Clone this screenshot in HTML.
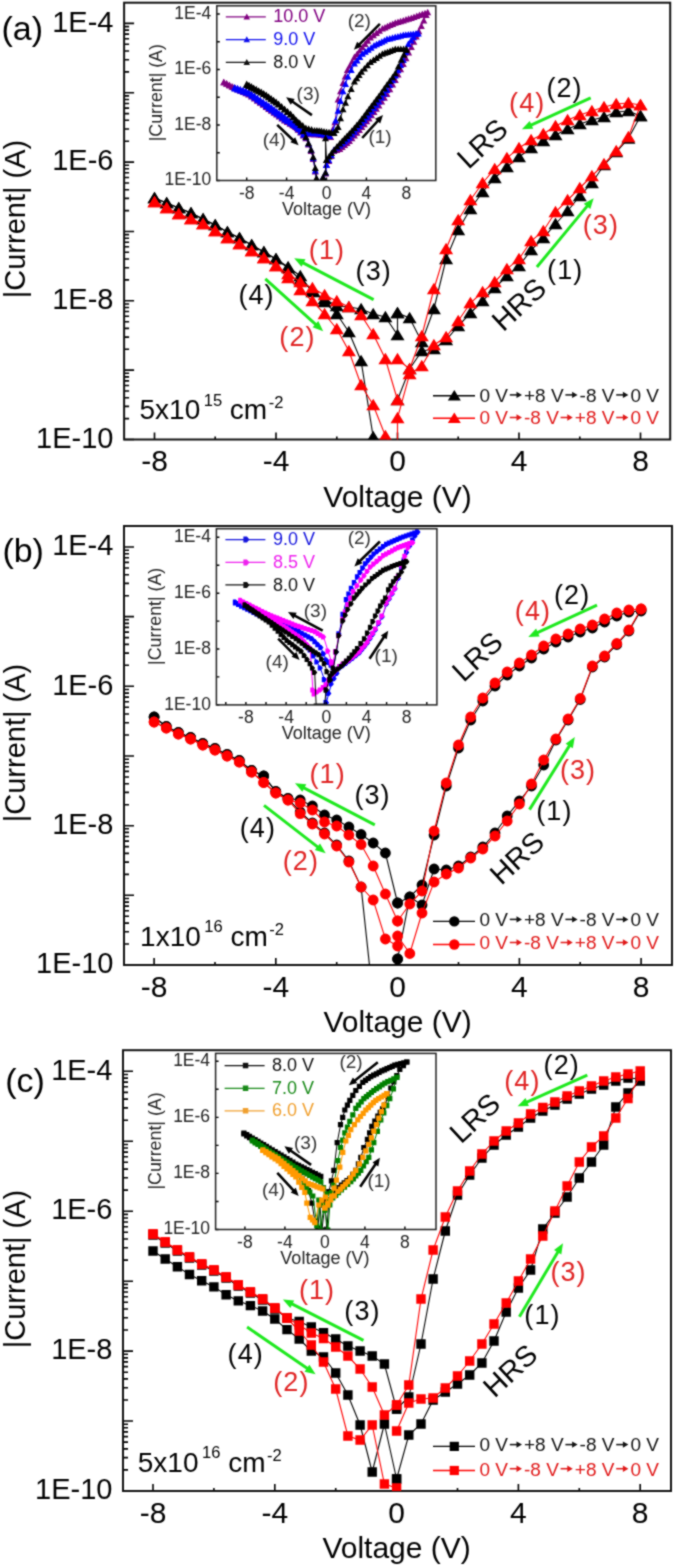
<!DOCTYPE html>
<html><head><meta charset="utf-8"><style>
html,body{margin:0;padding:0;background:#fff;}
body{width:675px;height:1565px;overflow:hidden;}
svg{display:block;}
text{font-family:"Liberation Sans", sans-serif;}
</style></head><body>
<svg width="675" height="1565" viewBox="0 0 675 1565" font-family='"Liberation Sans", sans-serif'>
<defs><filter id="soft" x="0" y="0" width="100%" height="100%" color-interpolation-filters="sRGB"><feConvolveMatrix order="3" kernelMatrix="1 2 1 2 8 2 1 2 1" divisor="20" edgeMode="duplicate"/></filter></defs>
<g filter="url(#soft)">
<rect width="675" height="1565" fill="#fff"/>
<defs>
<clipPath id="cma"><rect x="124.1" y="2.7" width="546.1" height="436.8"/></clipPath>
<clipPath id="cia"><rect x="216.8" y="5.8" width="219" height="174.7"/></clipPath>
<clipPath id="cmb"><rect x="124" y="526" width="548" height="439"/></clipPath>
<clipPath id="cib"><rect x="216.4" y="528.7" width="220.5" height="176.2"/></clipPath>
<clipPath id="cmc"><rect x="123" y="1050.2" width="548" height="440.8"/></clipPath>
<clipPath id="cic"><rect x="215.6" y="1053.4" width="220.4" height="176.1"/></clipPath>
</defs>
<path d="M154.5 439.5v-7M215.2 439.5v-3M276 439.5v-7M336.8 439.5v-3M397.5 439.5v-7M458.2 439.5v-3M519 439.5v-7M579.8 439.5v-3M640.5 439.5v-7M124.1 439.5h10M124.1 418.6h5M124.1 406.4h5M124.1 397.7h5M124.1 391h5M124.1 385.5h5M124.1 380.9h5M124.1 376.9h5M124.1 373.3h5M124.1 370.1h10M124.1 349.3h5M124.1 337.1h5M124.1 328.4h5M124.1 321.7h5M124.1 316.2h5M124.1 311.5h5M124.1 307.5h5M124.1 304h5M124.1 300.8h10M124.1 279.9h5M124.1 267.7h5M124.1 259h5M124.1 252.3h5M124.1 246.8h5M124.1 242.2h5M124.1 238.2h5M124.1 234.6h5M124.1 231.5h10M124.1 210.6h5M124.1 198.4h5M124.1 189.7h5M124.1 183h5M124.1 177.5h5M124.1 172.8h5M124.1 168.8h5M124.1 165.3h5M124.1 162.1h10M124.1 141.2h5M124.1 129h5M124.1 120.3h5M124.1 113.6h5M124.1 108.1h5M124.1 103.5h5M124.1 99.5h5M124.1 95.9h5M124.1 92.8h10M124.1 71.9h5M124.1 59.7h5M124.1 51h5M124.1 44.3h5M124.1 38.8h5M124.1 34.1h5M124.1 30.1h5M124.1 26.6h5M124.1 23.4h10" stroke="#000" stroke-width="1.6" fill="none"/>
<rect x="124.1" y="2.7" width="546.1" height="436.8" fill="none" stroke="#111" stroke-width="2"/>
<text x="113.5" y="31.6" font-size="29" fill="#000" text-anchor="end" >1E-4</text>
<text x="113.5" y="170.3" font-size="29" fill="#000" text-anchor="end" >1E-6</text>
<text x="113.5" y="309" font-size="29" fill="#000" text-anchor="end" >1E-8</text>
<text x="113.5" y="447.7" font-size="29" fill="#000" text-anchor="end" >1E-10</text>
<text x="154.5" y="471" font-size="30" fill="#000" text-anchor="middle" >-8</text>
<text x="276" y="471" font-size="30" fill="#000" text-anchor="middle" >-4</text>
<text x="397.5" y="471" font-size="30" fill="#000" text-anchor="middle" >0</text>
<text x="519" y="471" font-size="30" fill="#000" text-anchor="middle" >4</text>
<text x="640.5" y="471" font-size="30" fill="#000" text-anchor="middle" >8</text>
<text x="397.5" y="506.8" font-size="30" fill="#000" text-anchor="middle" >Voltage (V)</text>
<text x="0" y="0" font-size="29" text-anchor="middle" transform="translate(25.2 219) rotate(-90)">|Current| (A)</text>
<path d="M397.5 400L409.6 369L421.8 351L433.9 349L446.1 340L458.2 326L470.4 313L482.6 301L494.7 288L506.9 276L519 266L531.1 250L543.3 238L555.5 224L567.6 211L579.8 196L591.9 183L604 165L616.2 152L628.4 138.5L640.5 116" stroke="#000" stroke-width="1.1" fill="none" clip-path="url(#cma)"/>
<path d="M397.5 393.7l7 11.5h-14zM409.6 362.7l7 11.5h-14zM421.8 344.7l7 11.5h-14zM433.9 342.7l7 11.5h-14zM446.1 333.7l7 11.5h-14zM458.2 319.7l7 11.5h-14zM470.4 306.7l7 11.5h-14zM482.6 294.7l7 11.5h-14zM494.7 281.7l7 11.5h-14zM506.9 269.7l7 11.5h-14zM519 259.7l7 11.5h-14zM531.1 243.7l7 11.5h-14zM543.3 231.7l7 11.5h-14zM555.5 217.7l7 11.5h-14zM567.6 204.7l7 11.5h-14zM579.8 189.7l7 11.5h-14zM591.9 176.7l7 11.5h-14zM604 158.7l7 11.5h-14zM616.2 145.7l7 11.5h-14zM628.4 132.2l7 11.5h-14zM640.5 109.7l7 11.5h-14z" fill="#000" clip-path="url(#cma)"/>
<path d="M640.5 116L628.4 111L616.2 112L604 117L591.9 120L579.8 124L567.6 129L555.5 135L543.3 141L531.1 148L519 157L506.9 167L494.7 178L482.6 192L470.4 209L458.2 230L446.1 259L433.9 309L421.8 342L409.6 318L397.5 313" stroke="#000" stroke-width="1.1" fill="none" clip-path="url(#cma)"/>
<path d="M640.5 109.7l7 11.5h-14zM628.4 104.7l7 11.5h-14zM616.2 105.7l7 11.5h-14zM604 110.7l7 11.5h-14zM591.9 113.7l7 11.5h-14zM579.8 117.7l7 11.5h-14zM567.6 122.7l7 11.5h-14zM555.5 128.7l7 11.5h-14zM543.3 134.7l7 11.5h-14zM531.1 141.7l7 11.5h-14zM519 150.7l7 11.5h-14zM506.9 160.7l7 11.5h-14zM494.7 171.7l7 11.5h-14zM482.6 185.7l7 11.5h-14zM470.4 202.7l7 11.5h-14zM458.2 223.7l7 11.5h-14zM446.1 252.7l7 11.5h-14zM433.9 302.7l7 11.5h-14zM421.8 335.7l7 11.5h-14zM409.6 311.7l7 11.5h-14zM397.5 306.7l7 11.5h-14z" fill="#000" clip-path="url(#cma)"/>
<path d="M397.5 313L397.5 335L385.4 317L373.2 314L361.1 309L348.9 307L336.8 306L324.6 299L312.4 292L300.3 276L288.1 267L276 259L263.9 252L251.7 245L239.5 238L227.4 232L215.2 225L203.1 219L191 213L178.8 208L166.7 203L154.5 198" stroke="#000" stroke-width="1.1" fill="none" clip-path="url(#cma)"/>
<path d="M397.5 306.7l7 11.5h-14zM397.5 328.7l7 11.5h-14zM385.4 310.7l7 11.5h-14zM373.2 307.7l7 11.5h-14zM361.1 302.7l7 11.5h-14zM348.9 300.7l7 11.5h-14zM336.8 299.7l7 11.5h-14zM324.6 292.7l7 11.5h-14zM312.4 285.7l7 11.5h-14zM300.3 269.7l7 11.5h-14zM288.1 260.7l7 11.5h-14zM276 252.7l7 11.5h-14zM263.9 245.7l7 11.5h-14zM251.7 238.7l7 11.5h-14zM239.5 231.7l7 11.5h-14zM227.4 225.7l7 11.5h-14zM215.2 218.7l7 11.5h-14zM203.1 212.7l7 11.5h-14zM191 206.7l7 11.5h-14zM178.8 201.7l7 11.5h-14zM166.7 196.7l7 11.5h-14zM154.5 191.7l7 11.5h-14z" fill="#000" clip-path="url(#cma)"/>
<path d="M154.5 198L166.7 203L178.8 208L191 213L203.1 219L215.2 225L227.4 232L239.5 238L251.7 245L263.9 252L276 259L288.1 268L300.3 280L312.4 290L324.6 302L336.8 314L348.9 332L361.1 361L373.2 437L385.4 470L397.5 470" stroke="#000" stroke-width="1.1" fill="none" clip-path="url(#cma)"/>
<path d="M154.5 191.7l7 11.5h-14zM166.7 196.7l7 11.5h-14zM178.8 201.7l7 11.5h-14zM191 206.7l7 11.5h-14zM203.1 212.7l7 11.5h-14zM215.2 218.7l7 11.5h-14zM227.4 225.7l7 11.5h-14zM239.5 231.7l7 11.5h-14zM251.7 238.7l7 11.5h-14zM263.9 245.7l7 11.5h-14zM276 252.7l7 11.5h-14zM288.1 261.7l7 11.5h-14zM300.3 273.7l7 11.5h-14zM312.4 283.7l7 11.5h-14zM324.6 295.7l7 11.5h-14zM336.8 307.7l7 11.5h-14zM348.9 325.7l7 11.5h-14zM361.1 354.7l7 11.5h-14zM373.2 430.7l7 11.5h-14zM385.4 463.7l7 11.5h-14zM397.5 463.7l7 11.5h-14z" fill="#000" clip-path="url(#cma)"/>
<path d="M397.5 400L385.4 359L373.2 334L361.1 315L348.9 307L336.8 301L324.6 295L312.4 288L300.3 282L288.1 274L276 266L263.9 258L251.7 251L239.5 244L227.4 238L215.2 231L203.1 224L191 219L178.8 214L166.7 208L154.5 202" stroke="#ff0000" stroke-width="1.1" fill="none" clip-path="url(#cma)"/>
<path d="M397.5 393.7l7 11.5h-14zM385.4 352.7l7 11.5h-14zM373.2 327.7l7 11.5h-14zM361.1 308.7l7 11.5h-14zM348.9 300.7l7 11.5h-14zM336.8 294.7l7 11.5h-14zM324.6 288.7l7 11.5h-14zM312.4 281.7l7 11.5h-14zM300.3 275.7l7 11.5h-14zM288.1 267.7l7 11.5h-14zM276 259.7l7 11.5h-14zM263.9 251.7l7 11.5h-14zM251.7 244.7l7 11.5h-14zM239.5 237.7l7 11.5h-14zM227.4 231.7l7 11.5h-14zM215.2 224.7l7 11.5h-14zM203.1 217.7l7 11.5h-14zM191 212.7l7 11.5h-14zM178.8 207.7l7 11.5h-14zM166.7 201.7l7 11.5h-14zM154.5 195.7l7 11.5h-14z" fill="#ff0000" clip-path="url(#cma)"/>
<path d="M154.5 202L166.7 208L178.8 214L191 219L203.1 224L215.2 231L227.4 238L239.5 244L251.7 251L263.9 258L276 266L288.1 278L300.3 290L312.4 301L324.6 314L336.8 329L348.9 351L361.1 385L373.2 405L385.4 436L397.5 452" stroke="#ff0000" stroke-width="1.1" fill="none" clip-path="url(#cma)"/>
<path d="M154.5 195.7l7 11.5h-14zM166.7 201.7l7 11.5h-14zM178.8 207.7l7 11.5h-14zM191 212.7l7 11.5h-14zM203.1 217.7l7 11.5h-14zM215.2 224.7l7 11.5h-14zM227.4 231.7l7 11.5h-14zM239.5 237.7l7 11.5h-14zM251.7 244.7l7 11.5h-14zM263.9 251.7l7 11.5h-14zM276 259.7l7 11.5h-14zM288.1 271.7l7 11.5h-14zM300.3 283.7l7 11.5h-14zM312.4 294.7l7 11.5h-14zM324.6 307.7l7 11.5h-14zM336.8 322.7l7 11.5h-14zM348.9 344.7l7 11.5h-14zM361.1 378.7l7 11.5h-14zM373.2 398.7l7 11.5h-14zM385.4 429.7l7 11.5h-14zM397.5 445.7l7 11.5h-14z" fill="#ff0000" clip-path="url(#cma)"/>
<path d="M397.5 452L397.5 418L409.6 374L421.8 366L433.9 345L446.1 337L458.2 321L470.4 303L482.6 292L494.7 282L506.9 269L519 259L531.1 241L543.3 231L555.5 212L567.6 200L579.8 188L591.9 176L604 164L616.2 151L628.4 137L640.5 105" stroke="#ff0000" stroke-width="1.1" fill="none" clip-path="url(#cma)"/>
<path d="M397.5 445.7l7 11.5h-14zM397.5 411.7l7 11.5h-14zM409.6 367.7l7 11.5h-14zM421.8 359.7l7 11.5h-14zM433.9 338.7l7 11.5h-14zM446.1 330.7l7 11.5h-14zM458.2 314.7l7 11.5h-14zM470.4 296.7l7 11.5h-14zM482.6 285.7l7 11.5h-14zM494.7 275.7l7 11.5h-14zM506.9 262.7l7 11.5h-14zM519 252.7l7 11.5h-14zM531.1 234.7l7 11.5h-14zM543.3 224.7l7 11.5h-14zM555.5 205.7l7 11.5h-14zM567.6 193.7l7 11.5h-14zM579.8 181.7l7 11.5h-14zM591.9 169.7l7 11.5h-14zM604 157.7l7 11.5h-14zM616.2 144.7l7 11.5h-14zM628.4 130.7l7 11.5h-14zM640.5 98.7l7 11.5h-14z" fill="#ff0000" clip-path="url(#cma)"/>
<path d="M640.5 105L628.4 103L616.2 104L604 107L591.9 111L579.8 115L567.6 120L555.5 126L543.3 134L531.1 140L519 148L506.9 158L494.7 169L482.6 183L470.4 200L458.2 220L446.1 249L433.9 289L421.8 336L409.6 369L397.5 359" stroke="#ff0000" stroke-width="1.1" fill="none" clip-path="url(#cma)"/>
<path d="M640.5 98.7l7 11.5h-14zM628.4 96.7l7 11.5h-14zM616.2 97.7l7 11.5h-14zM604 100.7l7 11.5h-14zM591.9 104.7l7 11.5h-14zM579.8 108.7l7 11.5h-14zM567.6 113.7l7 11.5h-14zM555.5 119.7l7 11.5h-14zM543.3 127.7l7 11.5h-14zM531.1 133.7l7 11.5h-14zM519 141.7l7 11.5h-14zM506.9 151.7l7 11.5h-14zM494.7 162.7l7 11.5h-14zM482.6 176.7l7 11.5h-14zM470.4 193.7l7 11.5h-14zM458.2 213.7l7 11.5h-14zM446.1 242.7l7 11.5h-14zM433.9 282.7l7 11.5h-14zM421.8 329.7l7 11.5h-14zM409.6 362.7l7 11.5h-14zM397.5 352.7l7 11.5h-14z" fill="#ff0000" clip-path="url(#cma)"/>
<path d="M433 395.7h42" stroke="#000" stroke-width="1.4"/>
<path d="M454.3 389.9l6.5 10.6h-13z" fill="#000"/>
<text x="479.4" y="401.7" font-size="19" fill="#111" text-anchor="start" >0 V</text>
<path d="M509.8 394.9H518" stroke="#111" stroke-width="1.5"/>
<path d="M522 394.9L516.5 391.7L516.5 398.1z" fill="#111"/>
<text x="524" y="401.7" font-size="19" fill="#111" text-anchor="start" >+8 V</text>
<path d="M565.4 394.9H573.6" stroke="#111" stroke-width="1.5"/>
<path d="M577.6 394.9L572.1 391.7L572.1 398.1z" fill="#111"/>
<text x="579.6" y="401.7" font-size="19" fill="#111" text-anchor="start" >-8 V</text>
<path d="M616.2 394.9H624.4" stroke="#111" stroke-width="1.5"/>
<path d="M628.4 394.9L622.9 391.7L622.9 398.1z" fill="#111"/>
<text x="630.4" y="401.7" font-size="19" fill="#111" text-anchor="start" >0 V</text>
<path d="M433 418.3h42" stroke="#ff0000" stroke-width="1.4"/>
<path d="M454.3 412.5l6.5 10.6h-13z" fill="#ff0000"/>
<text x="479.4" y="424.3" font-size="19" fill="#e01818" text-anchor="start" >0 V</text>
<path d="M509.8 417.5H518" stroke="#e01818" stroke-width="1.5"/>
<path d="M522 417.5L516.5 414.3L516.5 420.7z" fill="#e01818"/>
<text x="524" y="424.3" font-size="19" fill="#e01818" text-anchor="start" >-8 V</text>
<path d="M560.6 417.5H568.8" stroke="#e01818" stroke-width="1.5"/>
<path d="M572.8 417.5L567.3 414.3L567.3 420.7z" fill="#e01818"/>
<text x="574.8" y="424.3" font-size="19" fill="#e01818" text-anchor="start" >+8 V</text>
<path d="M616.2 417.5H624.4" stroke="#e01818" stroke-width="1.5"/>
<path d="M628.4 417.5L622.9 414.3L622.9 420.7z" fill="#e01818"/>
<text x="630.4" y="424.3" font-size="19" fill="#e01818" text-anchor="start" >0 V</text>
<path d="M373.6 299.7L302.6 262.6" stroke="#1ee81e" stroke-width="3" fill="none"/>
<path d="M294.2 258.2L305.5 259.3L301.5 266.8z" fill="#1ee81e"/>
<path d="M265.3 278.8L316.2 324.8" stroke="#1ee81e" stroke-width="3" fill="none"/>
<path d="M323.2 331.2L312.6 327.3L318.3 321z" fill="#1ee81e"/>
<path d="M590.7 97.9L530.5 125.4" stroke="#1ee81e" stroke-width="3" fill="none"/>
<path d="M521.9 129.3L529.7 121.1L533.2 128.8z" fill="#1ee81e"/>
<path d="M536.9 267L587.6 205.6" stroke="#1ee81e" stroke-width="3" fill="none"/>
<path d="M593.7 198.3L590.3 209.1L583.7 203.7z" fill="#1ee81e"/>
<text x="308.8" y="259.1" font-size="27" fill="#e02424" text-anchor="start" letter-spacing="1.1">(1)</text>
<text x="355.6" y="280.2" font-size="27" fill="#000" text-anchor="start" letter-spacing="1.1">(3)</text>
<text x="238.4" y="304.1" font-size="27" fill="#000" text-anchor="start" letter-spacing="1.1">(4)</text>
<text x="279.3" y="345.8" font-size="27" fill="#e02424" text-anchor="start" letter-spacing="1.1">(2)</text>
<text x="546.4" y="97" font-size="27" fill="#000" text-anchor="start" letter-spacing="1.1">(2)</text>
<text x="509.1" y="111.6" font-size="27" fill="#e02424" text-anchor="start" letter-spacing="1.1">(4)</text>
<text x="547.1" y="279.1" font-size="27" fill="#000" text-anchor="start" letter-spacing="1.1">(1)</text>
<text x="582.7" y="234.1" font-size="27" fill="#e02424" text-anchor="start" letter-spacing="1.1">(3)</text>
<text x="1.5" y="40.4" font-size="34" fill="#000" text-anchor="start" >(a)</text>
<text x="139.5" y="419.1" font-size="28" fill="#000" text-anchor="start" >5x10<tspan font-size="16.5" dx="3.5" dy="-13.5">15</tspan><tspan dy="13.5"> cm</tspan><tspan font-size="16.5" dx="1.5" dy="-11">-2</tspan></text>
<text x="468.5" y="170" font-size="29" fill="#000" text-anchor="start" transform="rotate(-43 468.5 170)">LRS</text>
<text x="503.3" y="332.5" font-size="29" fill="#000" text-anchor="start" transform="rotate(-43 503.3 332.5)">HRS</text>
<rect x="216.8" y="5.8" width="219" height="174.7" fill="#fff" stroke="none"/>
<path d="M326.5 165L328.8 161L331.3 156L333.9 151L336.8 150L339.8 149L342.2 147L344.6 145L347 143L349.4 141L351.9 138.2L354.4 135.5L356.9 132.8L359.4 130L361.8 127.1L364.3 124.2L366.7 121.4L369.1 118.5L371.5 115.2L374 112L376.4 108.8L378.9 105.5L381.6 101.7L384.3 97.8L387 94L389.8 89.3L392.6 84.7L395.3 80L398 74.7L400.6 69.3L403.3 64L406 58.3L408.6 52.7L411.3 47L413.8 41.8L416.3 36.5L418.8 31.2L421.3 26L423.8 20.5L426.2 15" stroke="#800080" stroke-width="1" fill="none" clip-path="url(#cia)"/>
<path d="M326.5 161.4l3.5 6.5h-7zM328.8 157.4l3.5 6.5h-7zM331.3 152.4l3.5 6.5h-7zM333.9 147.4l3.5 6.5h-7zM336.8 146.4l3.5 6.5h-7zM339.8 145.4l3.5 6.5h-7zM342.2 143.4l3.5 6.5h-7zM344.6 141.4l3.5 6.5h-7zM347 139.4l3.5 6.5h-7zM349.4 137.4l3.5 6.5h-7zM351.9 134.7l3.5 6.5h-7zM354.4 131.9l3.5 6.5h-7zM356.9 129.2l3.5 6.5h-7zM359.4 126.4l3.5 6.5h-7zM361.8 123.5l3.5 6.5h-7zM364.3 120.7l3.5 6.5h-7zM366.7 117.8l3.5 6.5h-7zM369.1 114.9l3.5 6.5h-7zM371.5 111.7l3.5 6.5h-7zM374 108.4l3.5 6.5h-7zM376.4 105.2l3.5 6.5h-7zM378.9 101.9l3.5 6.5h-7zM381.6 98.1l3.5 6.5h-7zM384.3 94.3l3.5 6.5h-7zM387 90.4l3.5 6.5h-7zM389.8 85.8l3.5 6.5h-7zM392.6 81.1l3.5 6.5h-7zM395.3 76.4l3.5 6.5h-7zM398 71.1l3.5 6.5h-7zM400.6 65.8l3.5 6.5h-7zM403.3 60.4l3.5 6.5h-7zM406 54.8l3.5 6.5h-7zM408.6 49.1l3.5 6.5h-7zM411.3 43.4l3.5 6.5h-7zM413.8 38.2l3.5 6.5h-7zM416.3 32.9l3.5 6.5h-7zM418.8 27.7l3.5 6.5h-7zM421.3 22.4l3.5 6.5h-7zM423.8 16.9l3.5 6.5h-7zM426.2 11.4l3.5 6.5h-7z" fill="#800080" clip-path="url(#cia)"/>
<path d="M427.7 12.3L425 13.2L422.3 14.2L419.5 15.2L416.8 16.1L414 17.1L411.3 18L408.6 18.8L406 19.6L403.3 20.4L400.6 21.3L398 22.1L395.3 22.9L392.7 24L390.1 25.2L387.5 26.3L385 27.5L382.4 28.6L379.4 30.9L376.4 33.1L373.4 35.4L370.4 37.6L367.7 40.9L365.1 44.1L362.4 47.4L359.8 50.7L357.1 53.9L354.4 57.2L352.1 61.5L349.8 65.9L347.4 70.2L345.2 76.7L343 83.2L340.5 91.3L338.1 99.5L334.9 122.3L332.7 129.7L330.5 137" stroke="#800080" stroke-width="1" fill="none" clip-path="url(#cia)"/>
<path d="M427.7 8.7l3.5 6.5h-7zM425 9.7l3.5 6.5h-7zM422.3 10.6l3.5 6.5h-7zM419.5 11.6l3.5 6.5h-7zM416.8 12.5l3.5 6.5h-7zM414 13.5l3.5 6.5h-7zM411.3 14.4l3.5 6.5h-7zM408.6 15.2l3.5 6.5h-7zM406 16.1l3.5 6.5h-7zM403.3 16.9l3.5 6.5h-7zM400.6 17.7l3.5 6.5h-7zM398 18.5l3.5 6.5h-7zM395.3 19.3l3.5 6.5h-7zM392.7 20.5l3.5 6.5h-7zM390.1 21.6l3.5 6.5h-7zM387.5 22.7l3.5 6.5h-7zM385 23.9l3.5 6.5h-7zM382.4 25l3.5 6.5h-7zM379.4 27.3l3.5 6.5h-7zM376.4 29.5l3.5 6.5h-7zM373.4 31.8l3.5 6.5h-7zM370.4 34l3.5 6.5h-7zM367.7 37.3l3.5 6.5h-7zM365.1 40.6l3.5 6.5h-7zM362.4 43.8l3.5 6.5h-7zM359.8 47.1l3.5 6.5h-7zM357.1 50.4l3.5 6.5h-7zM354.4 53.6l3.5 6.5h-7zM352.1 58l3.5 6.5h-7zM349.8 62.3l3.5 6.5h-7zM347.4 66.6l3.5 6.5h-7zM345.2 73.1l3.5 6.5h-7zM343 79.6l3.5 6.5h-7zM340.5 87.8l3.5 6.5h-7zM338.1 95.9l3.5 6.5h-7zM334.9 118.7l3.5 6.5h-7zM332.7 126.1l3.5 6.5h-7zM330.5 133.4l3.5 6.5h-7z" fill="#800080" clip-path="url(#cia)"/>
<path d="M330.5 137L327.5 136.3L324.5 135.7L321.5 135L319.2 134.8L316.9 134.7L314.5 134.5L311.6 134.3L308.7 134.2L305.9 134L302.9 132L300 130L297.1 128L294.6 126L292.1 124L289.6 122L287.1 120L284.6 118L282 116.1L279.3 114.3L276.7 112.4L274.1 110.6L271.4 108.7L268.8 106.9L266.2 105L263.2 103L260.3 101L257.4 99L254.5 97L251.6 95L248.7 93L245.9 92L243.1 91L240.3 90L237.5 89L234.7 88L232 86.6L229.2 85.2L226.5 83.7L223.8 82.3" stroke="#800080" stroke-width="1" fill="none" clip-path="url(#cia)"/>
<path d="M330.5 133.4l3.5 6.5h-7zM327.5 132.8l3.5 6.5h-7zM324.5 132.1l3.5 6.5h-7zM321.5 131.4l3.5 6.5h-7zM319.2 131.3l3.5 6.5h-7zM316.9 131.1l3.5 6.5h-7zM314.5 130.9l3.5 6.5h-7zM311.6 130.8l3.5 6.5h-7zM308.7 130.6l3.5 6.5h-7zM305.9 130.4l3.5 6.5h-7zM302.9 128.4l3.5 6.5h-7zM300 126.4l3.5 6.5h-7zM297.1 124.4l3.5 6.5h-7zM294.6 122.4l3.5 6.5h-7zM292.1 120.4l3.5 6.5h-7zM289.6 118.4l3.5 6.5h-7zM287.1 116.4l3.5 6.5h-7zM284.6 114.4l3.5 6.5h-7zM282 112.6l3.5 6.5h-7zM279.3 110.7l3.5 6.5h-7zM276.7 108.9l3.5 6.5h-7zM274.1 107l3.5 6.5h-7zM271.4 105.1l3.5 6.5h-7zM268.8 103.3l3.5 6.5h-7zM266.2 101.4l3.5 6.5h-7zM263.2 99.4l3.5 6.5h-7zM260.3 97.4l3.5 6.5h-7zM257.4 95.4l3.5 6.5h-7zM254.5 93.4l3.5 6.5h-7zM251.6 91.4l3.5 6.5h-7zM248.7 89.4l3.5 6.5h-7zM245.9 88.4l3.5 6.5h-7zM243.1 87.4l3.5 6.5h-7zM240.3 86.4l3.5 6.5h-7zM237.5 85.4l3.5 6.5h-7zM234.7 84.4l3.5 6.5h-7zM232 83l3.5 6.5h-7zM229.2 81.6l3.5 6.5h-7zM226.5 80.1l3.5 6.5h-7zM223.8 78.7l3.5 6.5h-7z" fill="#800080" clip-path="url(#cia)"/>
<path d="M223.8 82.3L226.8 83.9L229.7 85.4L232.7 87L235.4 88.2L238.1 89.5L240.7 90.8L243.4 92L246 93.2L248.7 94.5L251.6 96.6L254.5 98.7L257.4 100.8L260.3 102.8L263.2 104.9L266.2 107L268.8 108.9L271.4 110.9L274.1 112.8L276.7 114.7L279.3 116.6L282 118.6L284.6 120.5L287.3 122.1L290.1 123.8L292.8 125.4L295.6 127L298.1 129.8L300.7 132.7L303.3 135.5L305.9 138.3L308.5 144.7L311.1 151L313.2 159L315.3 171.5L316.5 179.5L320.5 182L323.1 177.8L325.6 173.6L326.5 165" stroke="#800080" stroke-width="1" fill="none" clip-path="url(#cia)"/>
<path d="M223.8 78.7l3.5 6.5h-7zM226.8 80.3l3.5 6.5h-7zM229.7 81.9l3.5 6.5h-7zM232.7 83.4l3.5 6.5h-7zM235.4 84.7l3.5 6.5h-7zM238.1 85.9l3.5 6.5h-7zM240.7 87.2l3.5 6.5h-7zM243.4 88.4l3.5 6.5h-7zM246 89.7l3.5 6.5h-7zM248.7 90.9l3.5 6.5h-7zM251.6 93l3.5 6.5h-7zM254.5 95.1l3.5 6.5h-7zM257.4 97.2l3.5 6.5h-7zM260.3 99.3l3.5 6.5h-7zM263.2 101.3l3.5 6.5h-7zM266.2 103.4l3.5 6.5h-7zM268.8 105.4l3.5 6.5h-7zM271.4 107.3l3.5 6.5h-7zM274.1 109.2l3.5 6.5h-7zM276.7 111.1l3.5 6.5h-7zM279.3 113.1l3.5 6.5h-7zM282 115l3.5 6.5h-7zM284.6 116.9l3.5 6.5h-7zM287.3 118.5l3.5 6.5h-7zM290.1 120.2l3.5 6.5h-7zM292.8 121.8l3.5 6.5h-7zM295.6 123.4l3.5 6.5h-7zM298.1 126.2l3.5 6.5h-7zM300.7 129.1l3.5 6.5h-7zM303.3 131.9l3.5 6.5h-7zM305.9 134.7l3.5 6.5h-7zM308.5 141.1l3.5 6.5h-7zM311.1 147.4l3.5 6.5h-7zM313.2 155.4l3.5 6.5h-7zM315.3 167.9l3.5 6.5h-7zM316.5 175.9l3.5 6.5h-7zM320.5 178.4l3.5 6.5h-7zM323.1 174.2l3.5 6.5h-7zM325.6 170l3.5 6.5h-7zM326.5 161.4l3.5 6.5h-7z" fill="#800080" clip-path="url(#cia)"/>
<path d="M326.5 165L328.8 160.2L331.3 155.1L333.9 150L336.8 147.8L339.8 145.5L342.2 143.5L344.6 141.5L347 139.5L349.4 137.5L351.9 134.6L354.4 131.8L356.9 128.9L359.4 126L361.8 123.1L364.3 120.2L366.7 117.4L369.1 114.5L371.5 111.2L374 108L376.4 104.8L378.9 101.5L381.6 97.7L384.3 93.8L387 90L389.8 85.2L392.6 80.3L395.3 75.5L398 70.3L400.6 65.2L403.3 60L405.8 52L408.3 44L411 40.7L413.6 37.3L416.3 34" stroke="#0000ff" stroke-width="1" fill="none" clip-path="url(#cia)"/>
<path d="M326.5 161.4l3.5 6.5h-7zM328.8 156.6l3.5 6.5h-7zM331.3 151.5l3.5 6.5h-7zM333.9 146.4l3.5 6.5h-7zM336.8 144.2l3.5 6.5h-7zM339.8 141.9l3.5 6.5h-7zM342.2 139.9l3.5 6.5h-7zM344.6 137.9l3.5 6.5h-7zM347 135.9l3.5 6.5h-7zM349.4 133.9l3.5 6.5h-7zM351.9 131.1l3.5 6.5h-7zM354.4 128.2l3.5 6.5h-7zM356.9 125.3l3.5 6.5h-7zM359.4 122.4l3.5 6.5h-7zM361.8 119.5l3.5 6.5h-7zM364.3 116.7l3.5 6.5h-7zM366.7 113.8l3.5 6.5h-7zM369.1 110.9l3.5 6.5h-7zM371.5 107.7l3.5 6.5h-7zM374 104.4l3.5 6.5h-7zM376.4 101.2l3.5 6.5h-7zM378.9 97.9l3.5 6.5h-7zM381.6 94.1l3.5 6.5h-7zM384.3 90.3l3.5 6.5h-7zM387 86.4l3.5 6.5h-7zM389.8 81.6l3.5 6.5h-7zM392.6 76.8l3.5 6.5h-7zM395.3 71.9l3.5 6.5h-7zM398 66.8l3.5 6.5h-7zM400.6 61.6l3.5 6.5h-7zM403.3 56.4l3.5 6.5h-7zM405.8 48.4l3.5 6.5h-7zM408.3 40.4l3.5 6.5h-7zM411 37.1l3.5 6.5h-7zM413.6 33.8l3.5 6.5h-7zM416.3 30.4l3.5 6.5h-7z" fill="#0000ff" clip-path="url(#cia)"/>
<path d="M418.3 33.5L415.8 33.8L413.3 34L410.8 34.3L408.3 34.6L405.8 34.8L403.3 35.1L400.6 35.8L397.9 36.5L395.2 37.2L392.5 37.8L389.8 38.5L387 39.2L384.4 40.5L381.8 41.8L379.2 43.1L376.6 44.4L374 45.7L371.1 47.8L368.2 49.8L365.3 51.9L362.4 53.9L359.8 57.2L357.1 60.4L354.4 63.7L351.2 70.2L347.9 76.7L345.5 84.1L343 91.4L340.5 101.2L338.1 110.9L335.7 120.7L333.3 130.5L329.5 136" stroke="#0000ff" stroke-width="1" fill="none" clip-path="url(#cia)"/>
<path d="M418.3 29.9l3.5 6.5h-7zM415.8 30.2l3.5 6.5h-7zM413.3 30.5l3.5 6.5h-7zM410.8 30.7l3.5 6.5h-7zM408.3 31l3.5 6.5h-7zM405.8 31.3l3.5 6.5h-7zM403.3 31.5l3.5 6.5h-7zM400.6 32.2l3.5 6.5h-7zM397.9 32.9l3.5 6.5h-7zM395.2 33.6l3.5 6.5h-7zM392.5 34.3l3.5 6.5h-7zM389.8 34.9l3.5 6.5h-7zM387 35.6l3.5 6.5h-7zM384.4 36.9l3.5 6.5h-7zM381.8 38.2l3.5 6.5h-7zM379.2 39.5l3.5 6.5h-7zM376.6 40.8l3.5 6.5h-7zM374 42.1l3.5 6.5h-7zM371.1 44.2l3.5 6.5h-7zM368.2 46.2l3.5 6.5h-7zM365.3 48.3l3.5 6.5h-7zM362.4 50.3l3.5 6.5h-7zM359.8 53.6l3.5 6.5h-7zM357.1 56.9l3.5 6.5h-7zM354.4 60.1l3.5 6.5h-7zM351.2 66.6l3.5 6.5h-7zM347.9 73.1l3.5 6.5h-7zM345.5 80.5l3.5 6.5h-7zM343 87.8l3.5 6.5h-7zM340.5 97.6l3.5 6.5h-7zM338.1 107.3l3.5 6.5h-7zM335.7 117.1l3.5 6.5h-7zM333.3 126.9l3.5 6.5h-7zM329.5 132.4l3.5 6.5h-7z" fill="#0000ff" clip-path="url(#cia)"/>
<path d="M329.5 136L326.8 135.3L324.2 134.7L321.5 134L319.2 133.8L316.9 133.7L314.5 133.5L311.6 133.3L308.7 133.2L305.9 133L302.9 131L300 129L297.1 127L294.6 125L292.1 123L289.6 121L287.1 119L284.6 117L282 115.1L279.3 113.3L276.7 111.4L274.1 109.6L271.4 107.7L268.8 105.9L266.2 104L263.2 102L260.3 100L257.4 98L254.5 96L251.6 94L248.7 92L245.9 91.1L243.1 90.2L240.3 89.3L237.5 88.4L234.7 87.5" stroke="#0000ff" stroke-width="1" fill="none" clip-path="url(#cia)"/>
<path d="M329.5 132.4l3.5 6.5h-7zM326.8 131.8l3.5 6.5h-7zM324.2 131.1l3.5 6.5h-7zM321.5 130.4l3.5 6.5h-7zM319.2 130.3l3.5 6.5h-7zM316.9 130.1l3.5 6.5h-7zM314.5 129.9l3.5 6.5h-7zM311.6 129.8l3.5 6.5h-7zM308.7 129.6l3.5 6.5h-7zM305.9 129.4l3.5 6.5h-7zM302.9 127.4l3.5 6.5h-7zM300 125.4l3.5 6.5h-7zM297.1 123.4l3.5 6.5h-7zM294.6 121.4l3.5 6.5h-7zM292.1 119.4l3.5 6.5h-7zM289.6 117.4l3.5 6.5h-7zM287.1 115.4l3.5 6.5h-7zM284.6 113.4l3.5 6.5h-7zM282 111.6l3.5 6.5h-7zM279.3 109.7l3.5 6.5h-7zM276.7 107.9l3.5 6.5h-7zM274.1 106l3.5 6.5h-7zM271.4 104.1l3.5 6.5h-7zM268.8 102.3l3.5 6.5h-7zM266.2 100.4l3.5 6.5h-7zM263.2 98.4l3.5 6.5h-7zM260.3 96.4l3.5 6.5h-7zM257.4 94.4l3.5 6.5h-7zM254.5 92.4l3.5 6.5h-7zM251.6 90.4l3.5 6.5h-7zM248.7 88.4l3.5 6.5h-7zM245.9 87.5l3.5 6.5h-7zM243.1 86.6l3.5 6.5h-7zM240.3 85.7l3.5 6.5h-7zM237.5 84.8l3.5 6.5h-7zM234.7 83.9l3.5 6.5h-7z" fill="#0000ff" clip-path="url(#cia)"/>
<path d="M234.7 88.5L237.5 89.5L240.3 90.5L243.1 91.5L245.9 92.5L248.7 93.5L251.6 95.6L254.5 97.7L257.4 99.8L260.3 101.8L263.2 103.9L266.2 106L268.8 107.9L271.4 109.9L274.1 111.8L276.7 113.7L279.3 115.6L282 117.6L284.6 119.5L287.3 121.1L290.1 122.8L292.8 124.4L295.6 126L298.1 128.8L300.7 131.7L303.3 134.5L305.9 137.3L308.5 143.6L311.1 149.8L313.2 158.1L315.3 170.5L316.5 178.8L320.5 182L323.1 177.3L325.6 172.6L326.5 165" stroke="#0000ff" stroke-width="1" fill="none" clip-path="url(#cia)"/>
<path d="M234.7 84.9l3.5 6.5h-7zM237.5 85.9l3.5 6.5h-7zM240.3 86.9l3.5 6.5h-7zM243.1 87.9l3.5 6.5h-7zM245.9 88.9l3.5 6.5h-7zM248.7 89.9l3.5 6.5h-7zM251.6 92l3.5 6.5h-7zM254.5 94.1l3.5 6.5h-7zM257.4 96.2l3.5 6.5h-7zM260.3 98.3l3.5 6.5h-7zM263.2 100.3l3.5 6.5h-7zM266.2 102.4l3.5 6.5h-7zM268.8 104.4l3.5 6.5h-7zM271.4 106.3l3.5 6.5h-7zM274.1 108.2l3.5 6.5h-7zM276.7 110.1l3.5 6.5h-7zM279.3 112.1l3.5 6.5h-7zM282 114l3.5 6.5h-7zM284.6 115.9l3.5 6.5h-7zM287.3 117.5l3.5 6.5h-7zM290.1 119.2l3.5 6.5h-7zM292.8 120.8l3.5 6.5h-7zM295.6 122.4l3.5 6.5h-7zM298.1 125.2l3.5 6.5h-7zM300.7 128.1l3.5 6.5h-7zM303.3 130.9l3.5 6.5h-7zM305.9 133.7l3.5 6.5h-7zM308.5 140l3.5 6.5h-7zM311.1 146.2l3.5 6.5h-7zM313.2 154.5l3.5 6.5h-7zM315.3 166.9l3.5 6.5h-7zM316.5 175.2l3.5 6.5h-7zM320.5 178.4l3.5 6.5h-7zM323.1 173.7l3.5 6.5h-7zM325.6 169l3.5 6.5h-7zM326.5 161.4l3.5 6.5h-7z" fill="#0000ff" clip-path="url(#cia)"/>
<path d="M326.5 160L329 156.5L331.5 153L334.2 149.8L337 146.7L339.8 143.5L342.2 141.1L344.6 138.6L347 136.1L349.4 133.7L351.9 130.8L354.4 128L356.9 125.1L359.4 122.3L361.8 119L364.3 115.8L366.7 112.5L369.1 109.3L371.5 106L374 102.8L376.4 99.5L378.9 96.3L381.6 92.5L384.3 88.7L387 84.9L389.8 81.1L392.6 77.2L395.3 73.4L398.3 66.6L401.3 59.8L403.8 54.9L406.3 50" stroke="#000" stroke-width="1" fill="none" clip-path="url(#cia)"/>
<path d="M326.5 156.4l3.5 6.5h-7zM329 152.9l3.5 6.5h-7zM331.5 149.4l3.5 6.5h-7zM334.2 146.3l3.5 6.5h-7zM337 143.1l3.5 6.5h-7zM339.8 139.9l3.5 6.5h-7zM342.2 137.5l3.5 6.5h-7zM344.6 135l3.5 6.5h-7zM347 132.6l3.5 6.5h-7zM349.4 130.1l3.5 6.5h-7zM351.9 127.3l3.5 6.5h-7zM354.4 124.4l3.5 6.5h-7zM356.9 121.6l3.5 6.5h-7zM359.4 118.7l3.5 6.5h-7zM361.8 115.5l3.5 6.5h-7zM364.3 112.2l3.5 6.5h-7zM366.7 109l3.5 6.5h-7zM369.1 105.7l3.5 6.5h-7zM371.5 102.5l3.5 6.5h-7zM374 99.2l3.5 6.5h-7zM376.4 96l3.5 6.5h-7zM378.9 92.7l3.5 6.5h-7zM381.6 88.9l3.5 6.5h-7zM384.3 85.1l3.5 6.5h-7zM387 81.3l3.5 6.5h-7zM389.8 77.5l3.5 6.5h-7zM392.6 73.7l3.5 6.5h-7zM395.3 69.8l3.5 6.5h-7zM398.3 63l3.5 6.5h-7zM401.3 56.2l3.5 6.5h-7zM403.8 51.3l3.5 6.5h-7zM406.3 46.4l3.5 6.5h-7z" fill="#000" clip-path="url(#cia)"/>
<path d="M406.3 49L403.6 49L400.8 49L398.1 49L395.3 49L392.7 50L390.1 51L387.5 51.9L385 52.9L382.4 53.9L379.4 55.9L376.4 58L373.4 60L370.4 62L367.4 65.3L364.4 68.5L361.4 71.8L359.1 75.1L356.8 78.3L354.4 81.6L351.2 88.9L347.9 96.3L345.5 102.8L343 109.3L340.5 118.2L338.1 127.2L336 130.2L333.9 133.2" stroke="#000" stroke-width="1" fill="none" clip-path="url(#cia)"/>
<path d="M406.3 45.4l3.5 6.5h-7zM403.6 45.4l3.5 6.5h-7zM400.8 45.4l3.5 6.5h-7zM398.1 45.4l3.5 6.5h-7zM395.3 45.4l3.5 6.5h-7zM392.7 46.4l3.5 6.5h-7zM390.1 47.4l3.5 6.5h-7zM387.5 48.4l3.5 6.5h-7zM385 49.3l3.5 6.5h-7zM382.4 50.3l3.5 6.5h-7zM379.4 52.3l3.5 6.5h-7zM376.4 54.4l3.5 6.5h-7zM373.4 56.4l3.5 6.5h-7zM370.4 58.4l3.5 6.5h-7zM367.4 61.7l3.5 6.5h-7zM364.4 65l3.5 6.5h-7zM361.4 68.2l3.5 6.5h-7zM359.1 71.5l3.5 6.5h-7zM356.8 74.8l3.5 6.5h-7zM354.4 78l3.5 6.5h-7zM351.2 85.4l3.5 6.5h-7zM347.9 92.7l3.5 6.5h-7zM345.5 99.2l3.5 6.5h-7zM343 105.7l3.5 6.5h-7zM340.5 114.7l3.5 6.5h-7zM338.1 123.6l3.5 6.5h-7zM336 126.6l3.5 6.5h-7zM333.9 129.6l3.5 6.5h-7z" fill="#000" clip-path="url(#cia)"/>
<path d="M333.9 133.2L331.4 132.8L329 132.4L326.5 132L324 131.6L321.5 131.1L319.2 130.9L316.9 130.7L314.5 130.5L311.6 129.7L308.7 128.8L305.9 128L302.8 125.5L299.7 123L296.6 120.5L293.6 117.2L290.6 114L287.6 111.5L284.6 109L281.6 106.5L278.6 104L276.1 102.2L273.6 100.4L271.1 98.6L268.6 96.8L266.2 95L263.7 93.6L261.2 92.2L258.7 90.8L256.2 89.4L253.7 88L251.4 86.7L249 85.3L246.7 84" stroke="#000" stroke-width="1" fill="none" clip-path="url(#cia)"/>
<path d="M333.9 129.6l3.5 6.5h-7zM331.4 129.2l3.5 6.5h-7zM329 128.8l3.5 6.5h-7zM326.5 128.4l3.5 6.5h-7zM324 128l3.5 6.5h-7zM321.5 127.5l3.5 6.5h-7zM319.2 127.3l3.5 6.5h-7zM316.9 127.1l3.5 6.5h-7zM314.5 126.9l3.5 6.5h-7zM311.6 126.1l3.5 6.5h-7zM308.7 125.3l3.5 6.5h-7zM305.9 124.4l3.5 6.5h-7zM302.8 121.9l3.5 6.5h-7zM299.7 119.4l3.5 6.5h-7zM296.6 116.9l3.5 6.5h-7zM293.6 113.7l3.5 6.5h-7zM290.6 110.4l3.5 6.5h-7zM287.6 107.9l3.5 6.5h-7zM284.6 105.4l3.5 6.5h-7zM281.6 102.9l3.5 6.5h-7zM278.6 100.4l3.5 6.5h-7zM276.1 98.6l3.5 6.5h-7zM273.6 96.8l3.5 6.5h-7zM271.1 95l3.5 6.5h-7zM268.6 93.2l3.5 6.5h-7zM266.2 91.4l3.5 6.5h-7zM263.7 90l3.5 6.5h-7zM261.2 88.6l3.5 6.5h-7zM258.7 87.2l3.5 6.5h-7zM256.2 85.8l3.5 6.5h-7zM253.7 84.4l3.5 6.5h-7zM251.4 83.1l3.5 6.5h-7zM249 81.8l3.5 6.5h-7zM246.7 80.4l3.5 6.5h-7z" fill="#000" clip-path="url(#cia)"/>
<path d="M246.7 85L249 86.2L251.4 87.3L253.7 88.5L256.2 89.9L258.7 91.3L261.2 92.7L263.7 94.1L266.2 95.5L268.6 97.3L271.1 99.1L273.6 100.9L276.1 102.7L278.6 104.5L281.6 107L284.6 109.5L287.6 112L290.6 114.5L293.1 117.1L295.6 119.8L298.1 122.4L300.6 125L303.2 131L305.9 137L308.5 143.4L311.1 149.8L313.2 157L315.3 168L316.5 178L320.5 182L323 177.3L325.5 172.6L325.5 138.4L326.5 160" stroke="#000" stroke-width="1" fill="none" clip-path="url(#cia)"/>
<path d="M246.7 81.4l3.5 6.5h-7zM249 82.6l3.5 6.5h-7zM251.4 83.8l3.5 6.5h-7zM253.7 84.9l3.5 6.5h-7zM256.2 86.3l3.5 6.5h-7zM258.7 87.7l3.5 6.5h-7zM261.2 89.1l3.5 6.5h-7zM263.7 90.5l3.5 6.5h-7zM266.2 91.9l3.5 6.5h-7zM268.6 93.7l3.5 6.5h-7zM271.1 95.5l3.5 6.5h-7zM273.6 97.3l3.5 6.5h-7zM276.1 99.1l3.5 6.5h-7zM278.6 100.9l3.5 6.5h-7zM281.6 103.4l3.5 6.5h-7zM284.6 105.9l3.5 6.5h-7zM287.6 108.4l3.5 6.5h-7zM290.6 110.9l3.5 6.5h-7zM293.1 113.5l3.5 6.5h-7zM295.6 116.2l3.5 6.5h-7zM298.1 118.8l3.5 6.5h-7zM300.6 121.4l3.5 6.5h-7zM303.2 127.4l3.5 6.5h-7zM305.9 133.4l3.5 6.5h-7zM308.5 139.8l3.5 6.5h-7zM311.1 146.2l3.5 6.5h-7zM313.2 153.4l3.5 6.5h-7zM315.3 164.4l3.5 6.5h-7zM316.5 174.4l3.5 6.5h-7zM320.5 178.4l3.5 6.5h-7zM323 173.7l3.5 6.5h-7zM325.5 169l3.5 6.5h-7zM325.5 134.8l3.5 6.5h-7zM326.5 156.4l3.5 6.5h-7z" fill="#000" clip-path="url(#cia)"/>
<path d="M246.7 180.5v-3M286.6 180.5v-3M326.5 180.5v-3M366.4 180.5v-3M406.3 180.5v-3M216.8 180.5h3M216.8 152.8h3M216.8 125h3M216.8 97.2h3M216.8 69.5h3M216.8 41.8h3M216.8 14h3" stroke="#000" stroke-width="1.4" fill="none"/>
<rect x="216.8" y="5.8" width="219" height="174.7" fill="none" stroke="#222" stroke-width="1.5"/>
<text x="211.3" y="18.8" font-size="17.5" fill="#222" text-anchor="end" >1E-4</text>
<text x="211.3" y="74.3" font-size="17.5" fill="#222" text-anchor="end" >1E-6</text>
<text x="211.3" y="129.8" font-size="17.5" fill="#222" text-anchor="end" >1E-8</text>
<text x="211.3" y="185.3" font-size="17.5" fill="#222" text-anchor="end" >1E-10</text>
<text x="246.7" y="199" font-size="17.5" fill="#222" text-anchor="middle" >-8</text>
<text x="286.6" y="199" font-size="17.5" fill="#222" text-anchor="middle" >-4</text>
<text x="326.5" y="199" font-size="17.5" fill="#222" text-anchor="middle" >0</text>
<text x="366.4" y="199" font-size="17.5" fill="#222" text-anchor="middle" >4</text>
<text x="406.3" y="199" font-size="17.5" fill="#222" text-anchor="middle" >8</text>
<text x="326.5" y="215" font-size="18" fill="#222" text-anchor="middle" >Voltage (V)</text>
<text x="0" y="0" font-size="17.8" fill="#222" text-anchor="middle" transform="translate(161.8 92.7) rotate(-90)">|Current| (A)</text>
<path d="M225.8 16.8h40" stroke="#800080" stroke-width="1.3"/>
<path d="M246.8 13.5l3.2 6h-6.5z" fill="#800080"/>
<text x="273.3" y="22.4" font-size="18" fill="#800080" text-anchor="start" >10.0 V</text>
<path d="M225.8 39.6h40" stroke="#1010ee" stroke-width="1.3"/>
<path d="M246.8 36.3l3.2 6h-6.5z" fill="#1010ee"/>
<text x="273.3" y="45.2" font-size="18" fill="#1010ee" text-anchor="start" >9.0 V</text>
<path d="M225.8 62.4h40" stroke="#111" stroke-width="1.3"/>
<path d="M246.8 59.1l3.2 6h-6.5z" fill="#111"/>
<text x="273.3" y="68" font-size="18" fill="#111" text-anchor="start" >8.0 V</text>
<path d="M379.9 23.9L358.9 44.9" stroke="#000" stroke-width="2.6" fill="none"/>
<path d="M353.9 49.8L357.1 41.7L362 46.6z" fill="#000"/>
<path d="M362.2 138L378.3 120.3" stroke="#000" stroke-width="2.6" fill="none"/>
<path d="M383 115.1L380.2 123.4L375 118.7z" fill="#000"/>
<path d="M311.9 115.1L291.9 101.3" stroke="#000" stroke-width="2.6" fill="none"/>
<path d="M286.1 97.3L294.7 99L290.7 104.7z" fill="#000"/>
<path d="M277.2 124.9L293.5 140.5" stroke="#000" stroke-width="2.6" fill="none"/>
<path d="M298.6 145.3L290.4 142.3L295.2 137.2z" fill="#000"/>
<text x="347.7" y="27.1" font-size="19" fill="#333" text-anchor="start" >(2)</text>
<text x="368.4" y="143.3" font-size="19" fill="#333" text-anchor="start" >(1)</text>
<text x="296.6" y="100.4" font-size="19" fill="#333" text-anchor="start" >(3)</text>
<text x="262.8" y="145.8" font-size="19" fill="#333" text-anchor="start" >(4)</text>
<path d="M154.1 965v-7M215 965v-3M275.8 965v-7M336.7 965v-3M397.6 965v-7M458.5 965v-3M519.4 965v-7M580.2 965v-3M641.1 965v-7M124 965h10M124 944h5M124 931.8h5M124 923.1h5M124 916.3h5M124 910.8h5M124 906.1h5M124 902.1h5M124 898.5h5M124 895.3h10M124 874.4h5M124 862.1h5M124 853.4h5M124 846.6h5M124 841.1h5M124 836.5h5M124 832.4h5M124 828.8h5M124 825.7h10M124 804.7h5M124 792.4h5M124 783.7h5M124 777h5M124 771.4h5M124 766.8h5M124 762.7h5M124 759.2h5M124 756h10M124 735h5M124 722.7h5M124 714h5M124 707.3h5M124 701.8h5M124 697.1h5M124 693.1h5M124 689.5h5M124 686.3h10M124 665.3h5M124 653.1h5M124 644.4h5M124 637.6h5M124 632.1h5M124 627.4h5M124 623.4h5M124 619.8h5M124 616.6h10M124 595.7h5M124 583.4h5M124 574.7h5M124 568h5M124 562.4h5M124 557.8h5M124 553.7h5M124 550.2h5M124 547h10" stroke="#000" stroke-width="1.6" fill="none"/>
<rect x="124" y="526" width="548" height="439" fill="none" stroke="#111" stroke-width="2"/>
<text x="113.4" y="555.2" font-size="29" fill="#000" text-anchor="end" >1E-4</text>
<text x="113.4" y="694.5" font-size="29" fill="#000" text-anchor="end" >1E-6</text>
<text x="113.4" y="833.9" font-size="29" fill="#000" text-anchor="end" >1E-8</text>
<text x="113.4" y="973.2" font-size="29" fill="#000" text-anchor="end" >1E-10</text>
<text x="154.1" y="996.5" font-size="30" fill="#000" text-anchor="middle" >-8</text>
<text x="275.8" y="996.5" font-size="30" fill="#000" text-anchor="middle" >-4</text>
<text x="397.6" y="996.5" font-size="30" fill="#000" text-anchor="middle" >0</text>
<text x="519.4" y="996.5" font-size="30" fill="#000" text-anchor="middle" >4</text>
<text x="641.1" y="996.5" font-size="30" fill="#000" text-anchor="middle" >8</text>
<text x="397.6" y="1032.3" font-size="30" fill="#000" text-anchor="middle" >Voltage (V)</text>
<text x="0" y="0" font-size="29" text-anchor="middle" transform="translate(25.2 743) rotate(-90)">|Current| (A)</text>
<path d="M397.6 959L409.8 897L422 905L434.1 869L446.3 870L458.5 866L470.7 857L482.8 847L495 833L507.2 816L519.4 801L531.5 786L543.7 765L555.9 740L568.1 720L580.2 699.5L592.4 667L604.6 657L616.8 644.5L628.9 631L641.1 610" stroke="#000" stroke-width="1.1" fill="none" clip-path="url(#cmb)"/>
<path d="M392.2 959a5.4 5.4 0 1 0 10.8 0a5.4 5.4 0 1 0 -10.8 0zM404.4 897a5.4 5.4 0 1 0 10.8 0a5.4 5.4 0 1 0 -10.8 0zM416.6 905a5.4 5.4 0 1 0 10.8 0a5.4 5.4 0 1 0 -10.8 0zM428.7 869a5.4 5.4 0 1 0 10.8 0a5.4 5.4 0 1 0 -10.8 0zM440.9 870a5.4 5.4 0 1 0 10.8 0a5.4 5.4 0 1 0 -10.8 0zM453.1 866a5.4 5.4 0 1 0 10.8 0a5.4 5.4 0 1 0 -10.8 0zM465.3 857a5.4 5.4 0 1 0 10.8 0a5.4 5.4 0 1 0 -10.8 0zM477.4 847a5.4 5.4 0 1 0 10.8 0a5.4 5.4 0 1 0 -10.8 0zM489.6 833a5.4 5.4 0 1 0 10.8 0a5.4 5.4 0 1 0 -10.8 0zM501.8 816a5.4 5.4 0 1 0 10.8 0a5.4 5.4 0 1 0 -10.8 0zM514 801a5.4 5.4 0 1 0 10.8 0a5.4 5.4 0 1 0 -10.8 0zM526.1 786a5.4 5.4 0 1 0 10.8 0a5.4 5.4 0 1 0 -10.8 0zM538.3 765a5.4 5.4 0 1 0 10.8 0a5.4 5.4 0 1 0 -10.8 0zM550.5 740a5.4 5.4 0 1 0 10.8 0a5.4 5.4 0 1 0 -10.8 0zM562.7 720a5.4 5.4 0 1 0 10.8 0a5.4 5.4 0 1 0 -10.8 0zM574.8 699.5a5.4 5.4 0 1 0 10.8 0a5.4 5.4 0 1 0 -10.8 0zM587 667a5.4 5.4 0 1 0 10.8 0a5.4 5.4 0 1 0 -10.8 0zM599.2 657a5.4 5.4 0 1 0 10.8 0a5.4 5.4 0 1 0 -10.8 0zM611.4 644.5a5.4 5.4 0 1 0 10.8 0a5.4 5.4 0 1 0 -10.8 0zM623.5 631a5.4 5.4 0 1 0 10.8 0a5.4 5.4 0 1 0 -10.8 0zM635.7 610a5.4 5.4 0 1 0 10.8 0a5.4 5.4 0 1 0 -10.8 0z" fill="#000" clip-path="url(#cmb)"/>
<path d="M641.1 611L628.9 612L616.8 616L604.6 622L592.4 628L580.2 632L568.1 637L555.9 642L543.7 649L531.5 658L519.4 666L507.2 675L495 686L482.8 701L470.7 720L458.5 748L446.3 786L434.1 835L422 885L409.8 897L397.6 903" stroke="#000" stroke-width="1.1" fill="none" clip-path="url(#cmb)"/>
<path d="M635.7 611a5.4 5.4 0 1 0 10.8 0a5.4 5.4 0 1 0 -10.8 0zM623.5 612a5.4 5.4 0 1 0 10.8 0a5.4 5.4 0 1 0 -10.8 0zM611.4 616a5.4 5.4 0 1 0 10.8 0a5.4 5.4 0 1 0 -10.8 0zM599.2 622a5.4 5.4 0 1 0 10.8 0a5.4 5.4 0 1 0 -10.8 0zM587 628a5.4 5.4 0 1 0 10.8 0a5.4 5.4 0 1 0 -10.8 0zM574.8 632a5.4 5.4 0 1 0 10.8 0a5.4 5.4 0 1 0 -10.8 0zM562.7 637a5.4 5.4 0 1 0 10.8 0a5.4 5.4 0 1 0 -10.8 0zM550.5 642a5.4 5.4 0 1 0 10.8 0a5.4 5.4 0 1 0 -10.8 0zM538.3 649a5.4 5.4 0 1 0 10.8 0a5.4 5.4 0 1 0 -10.8 0zM526.1 658a5.4 5.4 0 1 0 10.8 0a5.4 5.4 0 1 0 -10.8 0zM514 666a5.4 5.4 0 1 0 10.8 0a5.4 5.4 0 1 0 -10.8 0zM501.8 675a5.4 5.4 0 1 0 10.8 0a5.4 5.4 0 1 0 -10.8 0zM489.6 686a5.4 5.4 0 1 0 10.8 0a5.4 5.4 0 1 0 -10.8 0zM477.4 701a5.4 5.4 0 1 0 10.8 0a5.4 5.4 0 1 0 -10.8 0zM465.3 720a5.4 5.4 0 1 0 10.8 0a5.4 5.4 0 1 0 -10.8 0zM453.1 748a5.4 5.4 0 1 0 10.8 0a5.4 5.4 0 1 0 -10.8 0zM440.9 786a5.4 5.4 0 1 0 10.8 0a5.4 5.4 0 1 0 -10.8 0zM428.7 835a5.4 5.4 0 1 0 10.8 0a5.4 5.4 0 1 0 -10.8 0zM416.6 885a5.4 5.4 0 1 0 10.8 0a5.4 5.4 0 1 0 -10.8 0zM404.4 897a5.4 5.4 0 1 0 10.8 0a5.4 5.4 0 1 0 -10.8 0zM392.2 903a5.4 5.4 0 1 0 10.8 0a5.4 5.4 0 1 0 -10.8 0z" fill="#000" clip-path="url(#cmb)"/>
<path d="M397.6 903L385.4 853L373.2 843L361.1 834.5L348.9 827L336.7 820L324.5 815L312.4 806L300.2 800L288 798.5L275.8 791.5L263.7 776L251.5 770.5L239.3 760.5L227.1 754.5L215 748.5L202.8 743.5L190.6 737.5L178.4 732.5L166.3 726.5L154.1 717" stroke="#000" stroke-width="1.1" fill="none" clip-path="url(#cmb)"/>
<path d="M392.2 903a5.4 5.4 0 1 0 10.8 0a5.4 5.4 0 1 0 -10.8 0zM380 853a5.4 5.4 0 1 0 10.8 0a5.4 5.4 0 1 0 -10.8 0zM367.8 843a5.4 5.4 0 1 0 10.8 0a5.4 5.4 0 1 0 -10.8 0zM355.7 834.5a5.4 5.4 0 1 0 10.8 0a5.4 5.4 0 1 0 -10.8 0zM343.5 827a5.4 5.4 0 1 0 10.8 0a5.4 5.4 0 1 0 -10.8 0zM331.3 820a5.4 5.4 0 1 0 10.8 0a5.4 5.4 0 1 0 -10.8 0zM319.1 815a5.4 5.4 0 1 0 10.8 0a5.4 5.4 0 1 0 -10.8 0zM307 806a5.4 5.4 0 1 0 10.8 0a5.4 5.4 0 1 0 -10.8 0zM294.8 800a5.4 5.4 0 1 0 10.8 0a5.4 5.4 0 1 0 -10.8 0zM282.6 798.5a5.4 5.4 0 1 0 10.8 0a5.4 5.4 0 1 0 -10.8 0zM270.4 791.5a5.4 5.4 0 1 0 10.8 0a5.4 5.4 0 1 0 -10.8 0zM258.3 776a5.4 5.4 0 1 0 10.8 0a5.4 5.4 0 1 0 -10.8 0zM246.1 770.5a5.4 5.4 0 1 0 10.8 0a5.4 5.4 0 1 0 -10.8 0zM233.9 760.5a5.4 5.4 0 1 0 10.8 0a5.4 5.4 0 1 0 -10.8 0zM221.7 754.5a5.4 5.4 0 1 0 10.8 0a5.4 5.4 0 1 0 -10.8 0zM209.6 748.5a5.4 5.4 0 1 0 10.8 0a5.4 5.4 0 1 0 -10.8 0zM197.4 743.5a5.4 5.4 0 1 0 10.8 0a5.4 5.4 0 1 0 -10.8 0zM185.2 737.5a5.4 5.4 0 1 0 10.8 0a5.4 5.4 0 1 0 -10.8 0zM173 732.5a5.4 5.4 0 1 0 10.8 0a5.4 5.4 0 1 0 -10.8 0zM160.9 726.5a5.4 5.4 0 1 0 10.8 0a5.4 5.4 0 1 0 -10.8 0zM148.7 717a5.4 5.4 0 1 0 10.8 0a5.4 5.4 0 1 0 -10.8 0z" fill="#000" clip-path="url(#cmb)"/>
<path d="M154.1 717L166.3 726.5L178.4 732.5L190.6 737.5L202.8 743.5L215 748.5L227.1 754.5L239.3 760.5L251.5 770.5L263.7 776L275.8 791.5L288 798.5L300.2 812L312.4 823L324.5 833L336.7 845L348.9 861L361.1 887L373.2 1000L385.4 1000L397.6 959" stroke="#000" stroke-width="1.1" fill="none" clip-path="url(#cmb)"/>
<path d="M148.7 717a5.4 5.4 0 1 0 10.8 0a5.4 5.4 0 1 0 -10.8 0zM160.9 726.5a5.4 5.4 0 1 0 10.8 0a5.4 5.4 0 1 0 -10.8 0zM173 732.5a5.4 5.4 0 1 0 10.8 0a5.4 5.4 0 1 0 -10.8 0zM185.2 737.5a5.4 5.4 0 1 0 10.8 0a5.4 5.4 0 1 0 -10.8 0zM197.4 743.5a5.4 5.4 0 1 0 10.8 0a5.4 5.4 0 1 0 -10.8 0zM209.6 748.5a5.4 5.4 0 1 0 10.8 0a5.4 5.4 0 1 0 -10.8 0zM221.7 754.5a5.4 5.4 0 1 0 10.8 0a5.4 5.4 0 1 0 -10.8 0zM233.9 760.5a5.4 5.4 0 1 0 10.8 0a5.4 5.4 0 1 0 -10.8 0zM246.1 770.5a5.4 5.4 0 1 0 10.8 0a5.4 5.4 0 1 0 -10.8 0zM258.3 776a5.4 5.4 0 1 0 10.8 0a5.4 5.4 0 1 0 -10.8 0zM270.4 791.5a5.4 5.4 0 1 0 10.8 0a5.4 5.4 0 1 0 -10.8 0zM282.6 798.5a5.4 5.4 0 1 0 10.8 0a5.4 5.4 0 1 0 -10.8 0zM294.8 812a5.4 5.4 0 1 0 10.8 0a5.4 5.4 0 1 0 -10.8 0zM307 823a5.4 5.4 0 1 0 10.8 0a5.4 5.4 0 1 0 -10.8 0zM319.1 833a5.4 5.4 0 1 0 10.8 0a5.4 5.4 0 1 0 -10.8 0zM331.3 845a5.4 5.4 0 1 0 10.8 0a5.4 5.4 0 1 0 -10.8 0zM343.5 861a5.4 5.4 0 1 0 10.8 0a5.4 5.4 0 1 0 -10.8 0zM355.7 887a5.4 5.4 0 1 0 10.8 0a5.4 5.4 0 1 0 -10.8 0zM367.8 1000a5.4 5.4 0 1 0 10.8 0a5.4 5.4 0 1 0 -10.8 0zM380 1000a5.4 5.4 0 1 0 10.8 0a5.4 5.4 0 1 0 -10.8 0zM392.2 959a5.4 5.4 0 1 0 10.8 0a5.4 5.4 0 1 0 -10.8 0z" fill="#000" clip-path="url(#cmb)"/>
<path d="M397.6 921L385.4 894L373.2 866L361.1 844.5L348.9 835L336.7 826L324.5 822L312.4 810L300.2 803L288 800L275.8 793L263.7 782.5L251.5 772L239.3 762L227.1 756L215 750L202.8 745L190.6 739L178.4 734L166.3 728L154.1 722" stroke="#ff0000" stroke-width="1.1" fill="none" clip-path="url(#cmb)"/>
<path d="M392.2 921a5.4 5.4 0 1 0 10.8 0a5.4 5.4 0 1 0 -10.8 0zM380 894a5.4 5.4 0 1 0 10.8 0a5.4 5.4 0 1 0 -10.8 0zM367.8 866a5.4 5.4 0 1 0 10.8 0a5.4 5.4 0 1 0 -10.8 0zM355.7 844.5a5.4 5.4 0 1 0 10.8 0a5.4 5.4 0 1 0 -10.8 0zM343.5 835a5.4 5.4 0 1 0 10.8 0a5.4 5.4 0 1 0 -10.8 0zM331.3 826a5.4 5.4 0 1 0 10.8 0a5.4 5.4 0 1 0 -10.8 0zM319.1 822a5.4 5.4 0 1 0 10.8 0a5.4 5.4 0 1 0 -10.8 0zM307 810a5.4 5.4 0 1 0 10.8 0a5.4 5.4 0 1 0 -10.8 0zM294.8 803a5.4 5.4 0 1 0 10.8 0a5.4 5.4 0 1 0 -10.8 0zM282.6 800a5.4 5.4 0 1 0 10.8 0a5.4 5.4 0 1 0 -10.8 0zM270.4 793a5.4 5.4 0 1 0 10.8 0a5.4 5.4 0 1 0 -10.8 0zM258.3 782.5a5.4 5.4 0 1 0 10.8 0a5.4 5.4 0 1 0 -10.8 0zM246.1 772a5.4 5.4 0 1 0 10.8 0a5.4 5.4 0 1 0 -10.8 0zM233.9 762a5.4 5.4 0 1 0 10.8 0a5.4 5.4 0 1 0 -10.8 0zM221.7 756a5.4 5.4 0 1 0 10.8 0a5.4 5.4 0 1 0 -10.8 0zM209.6 750a5.4 5.4 0 1 0 10.8 0a5.4 5.4 0 1 0 -10.8 0zM197.4 745a5.4 5.4 0 1 0 10.8 0a5.4 5.4 0 1 0 -10.8 0zM185.2 739a5.4 5.4 0 1 0 10.8 0a5.4 5.4 0 1 0 -10.8 0zM173 734a5.4 5.4 0 1 0 10.8 0a5.4 5.4 0 1 0 -10.8 0zM160.9 728a5.4 5.4 0 1 0 10.8 0a5.4 5.4 0 1 0 -10.8 0zM148.7 722a5.4 5.4 0 1 0 10.8 0a5.4 5.4 0 1 0 -10.8 0z" fill="#ff0000" clip-path="url(#cmb)"/>
<path d="M154.1 722L166.3 728L178.4 734L190.6 739L202.8 745L215 750L227.1 756L239.3 762L251.5 772L263.7 782.5L275.8 793L288 800L300.2 813.6L312.4 824L324.5 834L336.7 846L348.9 862L361.1 887L373.2 900L385.4 939L397.6 946" stroke="#ff0000" stroke-width="1.1" fill="none" clip-path="url(#cmb)"/>
<path d="M148.7 722a5.4 5.4 0 1 0 10.8 0a5.4 5.4 0 1 0 -10.8 0zM160.9 728a5.4 5.4 0 1 0 10.8 0a5.4 5.4 0 1 0 -10.8 0zM173 734a5.4 5.4 0 1 0 10.8 0a5.4 5.4 0 1 0 -10.8 0zM185.2 739a5.4 5.4 0 1 0 10.8 0a5.4 5.4 0 1 0 -10.8 0zM197.4 745a5.4 5.4 0 1 0 10.8 0a5.4 5.4 0 1 0 -10.8 0zM209.6 750a5.4 5.4 0 1 0 10.8 0a5.4 5.4 0 1 0 -10.8 0zM221.7 756a5.4 5.4 0 1 0 10.8 0a5.4 5.4 0 1 0 -10.8 0zM233.9 762a5.4 5.4 0 1 0 10.8 0a5.4 5.4 0 1 0 -10.8 0zM246.1 772a5.4 5.4 0 1 0 10.8 0a5.4 5.4 0 1 0 -10.8 0zM258.3 782.5a5.4 5.4 0 1 0 10.8 0a5.4 5.4 0 1 0 -10.8 0zM270.4 793a5.4 5.4 0 1 0 10.8 0a5.4 5.4 0 1 0 -10.8 0zM282.6 800a5.4 5.4 0 1 0 10.8 0a5.4 5.4 0 1 0 -10.8 0zM294.8 813.6a5.4 5.4 0 1 0 10.8 0a5.4 5.4 0 1 0 -10.8 0zM307 824a5.4 5.4 0 1 0 10.8 0a5.4 5.4 0 1 0 -10.8 0zM319.1 834a5.4 5.4 0 1 0 10.8 0a5.4 5.4 0 1 0 -10.8 0zM331.3 846a5.4 5.4 0 1 0 10.8 0a5.4 5.4 0 1 0 -10.8 0zM343.5 862a5.4 5.4 0 1 0 10.8 0a5.4 5.4 0 1 0 -10.8 0zM355.7 887a5.4 5.4 0 1 0 10.8 0a5.4 5.4 0 1 0 -10.8 0zM367.8 900a5.4 5.4 0 1 0 10.8 0a5.4 5.4 0 1 0 -10.8 0zM380 939a5.4 5.4 0 1 0 10.8 0a5.4 5.4 0 1 0 -10.8 0zM392.2 946a5.4 5.4 0 1 0 10.8 0a5.4 5.4 0 1 0 -10.8 0z" fill="#ff0000" clip-path="url(#cmb)"/>
<path d="M397.6 936L409.8 953.5L422 913L434.1 882L446.3 874L458.5 868L470.7 858L482.8 849L495 836L507.2 821L519.4 804L531.5 784L543.7 760L555.9 739L568.1 719L580.2 698.5L592.4 666L604.6 656L616.8 643.5L628.9 630L641.1 609" stroke="#ff0000" stroke-width="1.1" fill="none" clip-path="url(#cmb)"/>
<path d="M392.2 936a5.4 5.4 0 1 0 10.8 0a5.4 5.4 0 1 0 -10.8 0zM404.4 953.5a5.4 5.4 0 1 0 10.8 0a5.4 5.4 0 1 0 -10.8 0zM416.6 913a5.4 5.4 0 1 0 10.8 0a5.4 5.4 0 1 0 -10.8 0zM428.7 882a5.4 5.4 0 1 0 10.8 0a5.4 5.4 0 1 0 -10.8 0zM440.9 874a5.4 5.4 0 1 0 10.8 0a5.4 5.4 0 1 0 -10.8 0zM453.1 868a5.4 5.4 0 1 0 10.8 0a5.4 5.4 0 1 0 -10.8 0zM465.3 858a5.4 5.4 0 1 0 10.8 0a5.4 5.4 0 1 0 -10.8 0zM477.4 849a5.4 5.4 0 1 0 10.8 0a5.4 5.4 0 1 0 -10.8 0zM489.6 836a5.4 5.4 0 1 0 10.8 0a5.4 5.4 0 1 0 -10.8 0zM501.8 821a5.4 5.4 0 1 0 10.8 0a5.4 5.4 0 1 0 -10.8 0zM514 804a5.4 5.4 0 1 0 10.8 0a5.4 5.4 0 1 0 -10.8 0zM526.1 784a5.4 5.4 0 1 0 10.8 0a5.4 5.4 0 1 0 -10.8 0zM538.3 760a5.4 5.4 0 1 0 10.8 0a5.4 5.4 0 1 0 -10.8 0zM550.5 739a5.4 5.4 0 1 0 10.8 0a5.4 5.4 0 1 0 -10.8 0zM562.7 719a5.4 5.4 0 1 0 10.8 0a5.4 5.4 0 1 0 -10.8 0zM574.8 698.5a5.4 5.4 0 1 0 10.8 0a5.4 5.4 0 1 0 -10.8 0zM587 666a5.4 5.4 0 1 0 10.8 0a5.4 5.4 0 1 0 -10.8 0zM599.2 656a5.4 5.4 0 1 0 10.8 0a5.4 5.4 0 1 0 -10.8 0zM611.4 643.5a5.4 5.4 0 1 0 10.8 0a5.4 5.4 0 1 0 -10.8 0zM623.5 630a5.4 5.4 0 1 0 10.8 0a5.4 5.4 0 1 0 -10.8 0zM635.7 609a5.4 5.4 0 1 0 10.8 0a5.4 5.4 0 1 0 -10.8 0z" fill="#ff0000" clip-path="url(#cmb)"/>
<path d="M641.1 609L628.9 610L616.8 613L604.6 619L592.4 625L580.2 629L568.1 634L555.9 639L543.7 646L531.5 655L519.4 663L507.2 672L495 683L482.8 698L470.7 717L458.5 745L446.3 783L434.1 831L422 891L409.8 904L397.6 921" stroke="#ff0000" stroke-width="1.1" fill="none" clip-path="url(#cmb)"/>
<path d="M635.7 609a5.4 5.4 0 1 0 10.8 0a5.4 5.4 0 1 0 -10.8 0zM623.5 610a5.4 5.4 0 1 0 10.8 0a5.4 5.4 0 1 0 -10.8 0zM611.4 613a5.4 5.4 0 1 0 10.8 0a5.4 5.4 0 1 0 -10.8 0zM599.2 619a5.4 5.4 0 1 0 10.8 0a5.4 5.4 0 1 0 -10.8 0zM587 625a5.4 5.4 0 1 0 10.8 0a5.4 5.4 0 1 0 -10.8 0zM574.8 629a5.4 5.4 0 1 0 10.8 0a5.4 5.4 0 1 0 -10.8 0zM562.7 634a5.4 5.4 0 1 0 10.8 0a5.4 5.4 0 1 0 -10.8 0zM550.5 639a5.4 5.4 0 1 0 10.8 0a5.4 5.4 0 1 0 -10.8 0zM538.3 646a5.4 5.4 0 1 0 10.8 0a5.4 5.4 0 1 0 -10.8 0zM526.1 655a5.4 5.4 0 1 0 10.8 0a5.4 5.4 0 1 0 -10.8 0zM514 663a5.4 5.4 0 1 0 10.8 0a5.4 5.4 0 1 0 -10.8 0zM501.8 672a5.4 5.4 0 1 0 10.8 0a5.4 5.4 0 1 0 -10.8 0zM489.6 683a5.4 5.4 0 1 0 10.8 0a5.4 5.4 0 1 0 -10.8 0zM477.4 698a5.4 5.4 0 1 0 10.8 0a5.4 5.4 0 1 0 -10.8 0zM465.3 717a5.4 5.4 0 1 0 10.8 0a5.4 5.4 0 1 0 -10.8 0zM453.1 745a5.4 5.4 0 1 0 10.8 0a5.4 5.4 0 1 0 -10.8 0zM440.9 783a5.4 5.4 0 1 0 10.8 0a5.4 5.4 0 1 0 -10.8 0zM428.7 831a5.4 5.4 0 1 0 10.8 0a5.4 5.4 0 1 0 -10.8 0zM416.6 891a5.4 5.4 0 1 0 10.8 0a5.4 5.4 0 1 0 -10.8 0zM404.4 904a5.4 5.4 0 1 0 10.8 0a5.4 5.4 0 1 0 -10.8 0zM392.2 921a5.4 5.4 0 1 0 10.8 0a5.4 5.4 0 1 0 -10.8 0z" fill="#ff0000" clip-path="url(#cmb)"/>
<path d="M433 921.4h42" stroke="#000" stroke-width="1.4"/>
<path d="M449.1 921.4a5.2 5.2 0 1 0 10.4 0a5.2 5.2 0 1 0 -10.4 0z" fill="#000"/>
<text x="479.4" y="926.2" font-size="19" fill="#111" text-anchor="start" >0 V</text>
<path d="M509.8 919.4H518" stroke="#111" stroke-width="1.5"/>
<path d="M522 919.4L516.5 916.2L516.5 922.6z" fill="#111"/>
<text x="524" y="926.2" font-size="19" fill="#111" text-anchor="start" >+8 V</text>
<path d="M565.4 919.4H573.6" stroke="#111" stroke-width="1.5"/>
<path d="M577.6 919.4L572.1 916.2L572.1 922.6z" fill="#111"/>
<text x="579.6" y="926.2" font-size="19" fill="#111" text-anchor="start" >-8 V</text>
<path d="M616.2 919.4H624.4" stroke="#111" stroke-width="1.5"/>
<path d="M628.4 919.4L622.9 916.2L622.9 922.6z" fill="#111"/>
<text x="630.4" y="926.2" font-size="19" fill="#111" text-anchor="start" >0 V</text>
<path d="M433 944.5h42" stroke="#ff0000" stroke-width="1.4"/>
<path d="M449.1 944.5a5.2 5.2 0 1 0 10.4 0a5.2 5.2 0 1 0 -10.4 0z" fill="#ff0000"/>
<text x="479.4" y="949.3" font-size="19" fill="#e01818" text-anchor="start" >0 V</text>
<path d="M509.8 942.5H518" stroke="#e01818" stroke-width="1.5"/>
<path d="M522 942.5L516.5 939.3L516.5 945.7z" fill="#e01818"/>
<text x="524" y="949.3" font-size="19" fill="#e01818" text-anchor="start" >-8 V</text>
<path d="M560.6 942.5H568.8" stroke="#e01818" stroke-width="1.5"/>
<path d="M572.8 942.5L567.3 939.3L567.3 945.7z" fill="#e01818"/>
<text x="574.8" y="949.3" font-size="19" fill="#e01818" text-anchor="start" >+8 V</text>
<path d="M616.2 942.5H624.4" stroke="#e01818" stroke-width="1.5"/>
<path d="M628.4 942.5L622.9 939.3L622.9 945.7z" fill="#e01818"/>
<text x="630.4" y="949.3" font-size="19" fill="#e01818" text-anchor="start" >0 V</text>
<path d="M374.8 824.8L303.4 787.6" stroke="#1ee81e" stroke-width="3" fill="none"/>
<path d="M295 783.2L306.3 784.3L302.3 791.8z" fill="#1ee81e"/>
<path d="M264 805.4L318.2 847.4" stroke="#1ee81e" stroke-width="3" fill="none"/>
<path d="M325.7 853.2L314.8 850.1L320 843.4z" fill="#1ee81e"/>
<path d="M597 605.2L536.9 632.9" stroke="#1ee81e" stroke-width="3" fill="none"/>
<path d="M528.3 636.9L536.1 628.6L539.6 636.4z" fill="#1ee81e"/>
<path d="M529.5 809.6L569.8 745.1" stroke="#1ee81e" stroke-width="3" fill="none"/>
<path d="M574.8 737L572.8 748.2L565.6 743.7z" fill="#1ee81e"/>
<text x="309.5" y="782.5" font-size="27" fill="#e02424" text-anchor="start" letter-spacing="1.1">(1)</text>
<text x="354.4" y="803.9" font-size="27" fill="#000" text-anchor="start" letter-spacing="1.1">(3)</text>
<text x="239.7" y="836.7" font-size="27" fill="#000" text-anchor="start" letter-spacing="1.1">(4)</text>
<text x="282.7" y="869.9" font-size="27" fill="#e02424" text-anchor="start" letter-spacing="1.1">(2)</text>
<text x="554" y="603.9" font-size="27" fill="#000" text-anchor="start" letter-spacing="1.1">(2)</text>
<text x="514.8" y="620.2" font-size="27" fill="#e02424" text-anchor="start" letter-spacing="1.1">(4)</text>
<text x="536.2" y="820.2" font-size="27" fill="#000" text-anchor="start" letter-spacing="1.1">(1)</text>
<text x="559.9" y="778.7" font-size="27" fill="#e02424" text-anchor="start" letter-spacing="1.1">(3)</text>
<text x="2.4" y="562.1" font-size="34" fill="#000" text-anchor="start" >(b)</text>
<text x="140.1" y="945.8" font-size="28" fill="#000" text-anchor="start" >1x10<tspan font-size="16.5" dx="3.5" dy="-13.5">16</tspan><tspan dy="13.5"> cm</tspan><tspan font-size="16.5" dx="1.5" dy="-11">-2</tspan></text>
<text x="463.5" y="683" font-size="29" fill="#000" text-anchor="start" transform="rotate(-43 463.5 683)">LRS</text>
<text x="501.3" y="886" font-size="29" fill="#000" text-anchor="start" transform="rotate(-43 501.3 886)">HRS</text>
<rect x="216.4" y="528.7" width="220.5" height="176.2" fill="#fff" stroke="none"/>
<path d="M326.3 702.7L328.8 693.4L331.3 684L334.1 678.7L337 673.3L339.8 668L343 665.7L346.2 663.3L349.4 661L352.8 658.3L356.1 655.7L359.5 653L362.1 649.7L364.8 646.3L367.5 643L370.2 638.7L372.9 634.3L375.5 630L378.9 623.5L382.2 617L386.6 604L389.4 599L392.3 594L395.1 589L398.4 578.5L401.7 568L404.2 560.2L406.7 552.4L409.7 546.2L412.7 540L415.2 536L417.8 532.1" stroke="#0000ff" stroke-width="1" fill="none" clip-path="url(#cib)"/>
<path d="M323.7 700.1h3.1l2.1 2.6l-2.1 2.6h-3.1zM326.2 690.8h3.1l2.1 2.6l-2.1 2.6h-3.1zM328.7 681.4h3.1l2.1 2.6l-2.1 2.6h-3.1zM331.5 676.1h3.1l2.1 2.6l-2.1 2.6h-3.1zM334.4 670.7h3.1l2.1 2.6l-2.1 2.6h-3.1zM337.2 665.4h3.1l2.1 2.6l-2.1 2.6h-3.1zM340.4 663.1h3.1l2.1 2.6l-2.1 2.6h-3.1zM343.6 660.7h3.1l2.1 2.6l-2.1 2.6h-3.1zM346.8 658.4h3.1l2.1 2.6l-2.1 2.6h-3.1zM350.2 655.7h3.1l2.1 2.6l-2.1 2.6h-3.1zM353.5 653.1h3.1l2.1 2.6l-2.1 2.6h-3.1zM356.9 650.4h3.1l2.1 2.6l-2.1 2.6h-3.1zM359.5 647.1h3.1l2.1 2.6l-2.1 2.6h-3.1zM362.2 643.7h3.1l2.1 2.6l-2.1 2.6h-3.1zM364.9 640.4h3.1l2.1 2.6l-2.1 2.6h-3.1zM367.6 636.1h3.1l2.1 2.6l-2.1 2.6h-3.1zM370.3 631.7h3.1l2.1 2.6l-2.1 2.6h-3.1zM372.9 627.4h3.1l2.1 2.6l-2.1 2.6h-3.1zM376.3 620.9h3.1l2.1 2.6l-2.1 2.6h-3.1zM379.6 614.4h3.1l2.1 2.6l-2.1 2.6h-3.1zM384 601.4h3.1l2.1 2.6l-2.1 2.6h-3.1zM386.8 596.4h3.1l2.1 2.6l-2.1 2.6h-3.1zM389.7 591.4h3.1l2.1 2.6l-2.1 2.6h-3.1zM392.5 586.4h3.1l2.1 2.6l-2.1 2.6h-3.1zM395.8 575.9h3.1l2.1 2.6l-2.1 2.6h-3.1zM399.1 565.4h3.1l2.1 2.6l-2.1 2.6h-3.1zM401.6 557.6h3.1l2.1 2.6l-2.1 2.6h-3.1zM404.1 549.8h3.1l2.1 2.6l-2.1 2.6h-3.1zM407.1 543.6h3.1l2.1 2.6l-2.1 2.6h-3.1zM410.1 537.4h3.1l2.1 2.6l-2.1 2.6h-3.1zM412.6 533.4h3.1l2.1 2.6l-2.1 2.6h-3.1zM415.2 529.5h3.1l2.1 2.6l-2.1 2.6h-3.1z" fill="#0000ff" clip-path="url(#cib)"/>
<path d="M417.8 532.1L414.9 533.1L412.1 534.1L409.3 535L406.5 536L403.7 537L400.8 538.2L398 539.4L395.1 540.6L392.3 541.9L389.4 543.1L386.6 544.3L383.5 546.8L380.3 549.2L377.2 551.6L374 554.1L371.2 557.4L368.3 560.6L365.5 563.9L362.8 568.2L360.1 572.6L357.5 576.9L354.4 582.6L351.4 588.3L348.9 594L346.4 599.7L343 614.4L339 633.9L336.4 651.9L333.3 668L331.3 665" stroke="#0000ff" stroke-width="1" fill="none" clip-path="url(#cib)"/>
<path d="M415.2 529.5h3.1l2.1 2.6l-2.1 2.6h-3.1zM412.3 530.5h3.1l2.1 2.6l-2.1 2.6h-3.1zM409.5 531.5h3.1l2.1 2.6l-2.1 2.6h-3.1zM406.7 532.4h3.1l2.1 2.6l-2.1 2.6h-3.1zM403.9 533.4h3.1l2.1 2.6l-2.1 2.6h-3.1zM401.1 534.4h3.1l2.1 2.6l-2.1 2.6h-3.1zM398.2 535.6h3.1l2.1 2.6l-2.1 2.6h-3.1zM395.4 536.8h3.1l2.1 2.6l-2.1 2.6h-3.1zM392.5 538h3.1l2.1 2.6l-2.1 2.6h-3.1zM389.7 539.3h3.1l2.1 2.6l-2.1 2.6h-3.1zM386.8 540.5h3.1l2.1 2.6l-2.1 2.6h-3.1zM384 541.7h3.1l2.1 2.6l-2.1 2.6h-3.1zM380.9 544.1h3.1l2.1 2.6l-2.1 2.6h-3.1zM377.7 546.6h3.1l2.1 2.6l-2.1 2.6h-3.1zM374.6 549h3.1l2.1 2.6l-2.1 2.6h-3.1zM371.4 551.5h3.1l2.1 2.6l-2.1 2.6h-3.1zM368.6 554.8h3.1l2.1 2.6l-2.1 2.6h-3.1zM365.7 558h3.1l2.1 2.6l-2.1 2.6h-3.1zM362.9 561.3h3.1l2.1 2.6l-2.1 2.6h-3.1zM360.2 565.6h3.1l2.1 2.6l-2.1 2.6h-3.1zM357.5 570h3.1l2.1 2.6l-2.1 2.6h-3.1zM354.9 574.3h3.1l2.1 2.6l-2.1 2.6h-3.1zM351.8 580h3.1l2.1 2.6l-2.1 2.6h-3.1zM348.8 585.7h3.1l2.1 2.6l-2.1 2.6h-3.1zM346.3 591.4h3.1l2.1 2.6l-2.1 2.6h-3.1zM343.8 597.1h3.1l2.1 2.6l-2.1 2.6h-3.1zM340.4 611.8h3.1l2.1 2.6l-2.1 2.6h-3.1zM336.4 631.3h3.1l2.1 2.6l-2.1 2.6h-3.1zM333.8 649.3h3.1l2.1 2.6l-2.1 2.6h-3.1zM330.7 665.4h3.1l2.1 2.6l-2.1 2.6h-3.1zM328.7 662.4h3.1l2.1 2.6l-2.1 2.6h-3.1z" fill="#0000ff" clip-path="url(#cib)"/>
<path d="M331.3 665L328.8 662.5L326.3 660L323.6 653.8L320.9 647.6L317.9 644.6L315 641.7L312 638.7L308.9 636.9L305.7 635.1L302.5 633.4L299.3 631.6L296.2 629.8L293.2 628.4L290.2 627L287.2 625.5L284.2 624.1L281.2 622.7L278.3 621.3L275.3 619.8L272.3 618.4L269.3 617L266.2 615.7L263.2 614.3L260.1 613L257 611.6L254 610.3L250.9 608.9L247.8 607.6L244.8 606.2L241.7 604.9L238.6 603.5L235.5 602.2" stroke="#0000ff" stroke-width="1" fill="none" clip-path="url(#cib)"/>
<path d="M328.7 662.4h3.1l2.1 2.6l-2.1 2.6h-3.1zM326.2 659.9h3.1l2.1 2.6l-2.1 2.6h-3.1zM323.7 657.4h3.1l2.1 2.6l-2.1 2.6h-3.1zM321 651.2h3.1l2.1 2.6l-2.1 2.6h-3.1zM318.3 645h3.1l2.1 2.6l-2.1 2.6h-3.1zM315.3 642h3.1l2.1 2.6l-2.1 2.6h-3.1zM312.4 639.1h3.1l2.1 2.6l-2.1 2.6h-3.1zM309.4 636.1h3.1l2.1 2.6l-2.1 2.6h-3.1zM306.3 634.3h3.1l2.1 2.6l-2.1 2.6h-3.1zM303.1 632.5h3.1l2.1 2.6l-2.1 2.6h-3.1zM299.9 630.8h3.1l2.1 2.6l-2.1 2.6h-3.1zM296.7 629h3.1l2.1 2.6l-2.1 2.6h-3.1zM293.6 627.2h3.1l2.1 2.6l-2.1 2.6h-3.1zM290.6 625.8h3.1l2.1 2.6l-2.1 2.6h-3.1zM287.6 624.4h3.1l2.1 2.6l-2.1 2.6h-3.1zM284.6 622.9h3.1l2.1 2.6l-2.1 2.6h-3.1zM281.6 621.5h3.1l2.1 2.6l-2.1 2.6h-3.1zM278.6 620.1h3.1l2.1 2.6l-2.1 2.6h-3.1zM275.7 618.7h3.1l2.1 2.6l-2.1 2.6h-3.1zM272.7 617.2h3.1l2.1 2.6l-2.1 2.6h-3.1zM269.7 615.8h3.1l2.1 2.6l-2.1 2.6h-3.1zM266.7 614.4h3.1l2.1 2.6l-2.1 2.6h-3.1zM263.6 613.1h3.1l2.1 2.6l-2.1 2.6h-3.1zM260.6 611.7h3.1l2.1 2.6l-2.1 2.6h-3.1zM257.5 610.4h3.1l2.1 2.6l-2.1 2.6h-3.1zM254.4 609h3.1l2.1 2.6l-2.1 2.6h-3.1zM251.4 607.7h3.1l2.1 2.6l-2.1 2.6h-3.1zM248.3 606.3h3.1l2.1 2.6l-2.1 2.6h-3.1zM245.2 605h3.1l2.1 2.6l-2.1 2.6h-3.1zM242.2 603.6h3.1l2.1 2.6l-2.1 2.6h-3.1zM239.1 602.3h3.1l2.1 2.6l-2.1 2.6h-3.1zM236 600.9h3.1l2.1 2.6l-2.1 2.6h-3.1zM232.9 599.6h3.1l2.1 2.6l-2.1 2.6h-3.1z" fill="#0000ff" clip-path="url(#cib)"/>
<path d="M235.5 603L238.6 604.5L241.7 606.1L244.8 607.6L247.8 609.2L250.9 610.7L254 612.3L257 613.8L260.1 615.4L263.2 616.9L266.2 618.5L269.3 620L272.3 621.8L275.2 623.7L278.2 625.5L281.2 627.3L284.1 629.2L287.1 631L289.9 632.8L292.7 634.6L295.5 636.4L298.4 638.2L301.2 640L304.2 643.3L307.2 646.7L310.2 650L313.6 656L316.9 662L320.3 668L324.4 679.6L326.3 702.7" stroke="#0000ff" stroke-width="1" fill="none" clip-path="url(#cib)"/>
<path d="M232.9 600.4h3.1l2.1 2.6l-2.1 2.6h-3.1zM236 601.9h3.1l2.1 2.6l-2.1 2.6h-3.1zM239.1 603.5h3.1l2.1 2.6l-2.1 2.6h-3.1zM242.2 605h3.1l2.1 2.6l-2.1 2.6h-3.1zM245.2 606.6h3.1l2.1 2.6l-2.1 2.6h-3.1zM248.3 608.1h3.1l2.1 2.6l-2.1 2.6h-3.1zM251.4 609.7h3.1l2.1 2.6l-2.1 2.6h-3.1zM254.4 611.2h3.1l2.1 2.6l-2.1 2.6h-3.1zM257.5 612.8h3.1l2.1 2.6l-2.1 2.6h-3.1zM260.6 614.3h3.1l2.1 2.6l-2.1 2.6h-3.1zM263.6 615.9h3.1l2.1 2.6l-2.1 2.6h-3.1zM266.7 617.4h3.1l2.1 2.6l-2.1 2.6h-3.1zM269.7 619.2h3.1l2.1 2.6l-2.1 2.6h-3.1zM272.6 621.1h3.1l2.1 2.6l-2.1 2.6h-3.1zM275.6 622.9h3.1l2.1 2.6l-2.1 2.6h-3.1zM278.6 624.7h3.1l2.1 2.6l-2.1 2.6h-3.1zM281.5 626.6h3.1l2.1 2.6l-2.1 2.6h-3.1zM284.5 628.4h3.1l2.1 2.6l-2.1 2.6h-3.1zM287.3 630.2h3.1l2.1 2.6l-2.1 2.6h-3.1zM290.1 632h3.1l2.1 2.6l-2.1 2.6h-3.1zM292.9 633.8h3.1l2.1 2.6l-2.1 2.6h-3.1zM295.8 635.6h3.1l2.1 2.6l-2.1 2.6h-3.1zM298.6 637.4h3.1l2.1 2.6l-2.1 2.6h-3.1zM301.6 640.7h3.1l2.1 2.6l-2.1 2.6h-3.1zM304.6 644.1h3.1l2.1 2.6l-2.1 2.6h-3.1zM307.6 647.4h3.1l2.1 2.6l-2.1 2.6h-3.1zM311 653.4h3.1l2.1 2.6l-2.1 2.6h-3.1zM314.3 659.4h3.1l2.1 2.6l-2.1 2.6h-3.1zM317.7 665.4h3.1l2.1 2.6l-2.1 2.6h-3.1zM321.8 677h3.1l2.1 2.6l-2.1 2.6h-3.1zM323.7 700.1h3.1l2.1 2.6l-2.1 2.6h-3.1z" fill="#0000ff" clip-path="url(#cib)"/>
<path d="M326.3 685L328.8 680.5L331.3 676L334.1 672.8L337 669.7L339.8 666.5L343 664.3L346.2 662.2L349.4 660L352.8 657.3L356.1 654.6L359.5 651.9L362.1 648.6L364.8 645.4L367.5 642.1L370.2 637.7L372.9 633.4L375.5 629L378.9 622.5L382.2 616L386.6 603L389.4 598.1L392.3 593.2L395.1 588.3L398.4 576.6L401.7 565L404.9 556.3L408.2 547.6L412.7 542.7" stroke="#ff00ff" stroke-width="1" fill="none" clip-path="url(#cib)"/>
<path d="M323.7 682.4h3.1l2.1 2.6l-2.1 2.6h-3.1zM326.2 677.9h3.1l2.1 2.6l-2.1 2.6h-3.1zM328.7 673.4h3.1l2.1 2.6l-2.1 2.6h-3.1zM331.5 670.2h3.1l2.1 2.6l-2.1 2.6h-3.1zM334.4 667.1h3.1l2.1 2.6l-2.1 2.6h-3.1zM337.2 663.9h3.1l2.1 2.6l-2.1 2.6h-3.1zM340.4 661.7h3.1l2.1 2.6l-2.1 2.6h-3.1zM343.6 659.6h3.1l2.1 2.6l-2.1 2.6h-3.1zM346.8 657.4h3.1l2.1 2.6l-2.1 2.6h-3.1zM350.2 654.7h3.1l2.1 2.6l-2.1 2.6h-3.1zM353.5 652h3.1l2.1 2.6l-2.1 2.6h-3.1zM356.9 649.3h3.1l2.1 2.6l-2.1 2.6h-3.1zM359.5 646h3.1l2.1 2.6l-2.1 2.6h-3.1zM362.2 642.8h3.1l2.1 2.6l-2.1 2.6h-3.1zM364.9 639.5h3.1l2.1 2.6l-2.1 2.6h-3.1zM367.6 635.1h3.1l2.1 2.6l-2.1 2.6h-3.1zM370.3 630.8h3.1l2.1 2.6l-2.1 2.6h-3.1zM372.9 626.4h3.1l2.1 2.6l-2.1 2.6h-3.1zM376.3 619.9h3.1l2.1 2.6l-2.1 2.6h-3.1zM379.6 613.4h3.1l2.1 2.6l-2.1 2.6h-3.1zM384 600.4h3.1l2.1 2.6l-2.1 2.6h-3.1zM386.8 595.5h3.1l2.1 2.6l-2.1 2.6h-3.1zM389.7 590.6h3.1l2.1 2.6l-2.1 2.6h-3.1zM392.5 585.7h3.1l2.1 2.6l-2.1 2.6h-3.1zM395.8 574h3.1l2.1 2.6l-2.1 2.6h-3.1zM399.1 562.4h3.1l2.1 2.6l-2.1 2.6h-3.1zM402.3 553.7h3.1l2.1 2.6l-2.1 2.6h-3.1zM405.6 545h3.1l2.1 2.6l-2.1 2.6h-3.1zM410.1 540.1h3.1l2.1 2.6l-2.1 2.6h-3.1z" fill="#ff00ff" clip-path="url(#cib)"/>
<path d="M412.7 542.7L409.9 543.7L407.1 544.7L404.3 545.6L401.5 546.6L398.7 547.6L395.6 549.2L392.6 550.8L389.6 552.5L386.6 554.1L383.6 555.7L380.3 558.6L377.1 561.4L373.8 564.2L370.5 567.1L367.3 571.5L364.2 575.8L361 580.2L357.2 585.9L353.4 591.6L350.7 598.1L347.9 604.6L345.4 612L343 619.3L339 635.6L335.7 651.9L332.3 664L331.5 661.8" stroke="#ff00ff" stroke-width="1" fill="none" clip-path="url(#cib)"/>
<path d="M410.1 540.1h3.1l2.1 2.6l-2.1 2.6h-3.1zM407.3 541.1h3.1l2.1 2.6l-2.1 2.6h-3.1zM404.5 542.1h3.1l2.1 2.6l-2.1 2.6h-3.1zM401.7 543h3.1l2.1 2.6l-2.1 2.6h-3.1zM398.9 544h3.1l2.1 2.6l-2.1 2.6h-3.1zM396.1 545h3.1l2.1 2.6l-2.1 2.6h-3.1zM393 546.6h3.1l2.1 2.6l-2.1 2.6h-3.1zM390 548.2h3.1l2.1 2.6l-2.1 2.6h-3.1zM387 549.9h3.1l2.1 2.6l-2.1 2.6h-3.1zM384 551.5h3.1l2.1 2.6l-2.1 2.6h-3.1zM381 553.1h3.1l2.1 2.6l-2.1 2.6h-3.1zM377.7 556h3.1l2.1 2.6l-2.1 2.6h-3.1zM374.5 558.8h3.1l2.1 2.6l-2.1 2.6h-3.1zM371.2 561.6h3.1l2.1 2.6l-2.1 2.6h-3.1zM367.9 564.5h3.1l2.1 2.6l-2.1 2.6h-3.1zM364.7 568.9h3.1l2.1 2.6l-2.1 2.6h-3.1zM361.6 573.2h3.1l2.1 2.6l-2.1 2.6h-3.1zM358.4 577.6h3.1l2.1 2.6l-2.1 2.6h-3.1zM354.6 583.3h3.1l2.1 2.6l-2.1 2.6h-3.1zM350.8 589h3.1l2.1 2.6l-2.1 2.6h-3.1zM348.1 595.5h3.1l2.1 2.6l-2.1 2.6h-3.1zM345.3 602h3.1l2.1 2.6l-2.1 2.6h-3.1zM342.8 609.4h3.1l2.1 2.6l-2.1 2.6h-3.1zM340.4 616.7h3.1l2.1 2.6l-2.1 2.6h-3.1zM336.4 633h3.1l2.1 2.6l-2.1 2.6h-3.1zM333.1 649.3h3.1l2.1 2.6l-2.1 2.6h-3.1zM329.7 661.4h3.1l2.1 2.6l-2.1 2.6h-3.1zM328.9 659.2h3.1l2.1 2.6l-2.1 2.6h-3.1z" fill="#ff00ff" clip-path="url(#cib)"/>
<path d="M331.5 661.8L328 651.1L323.6 636.9L320.9 635.1L318.2 633.4L315.5 631.6L312.3 630.5L309.1 629.5L305.8 628.5L302.6 627.4L299.4 626.3L296.2 625.3L293.2 624.1L290.2 622.9L287.2 621.8L284.2 620.6L281.2 619.4L278.3 618.2L275.3 617.1L272.3 615.9L269.3 614.7L266.2 613.1L263 611.5L259.8 609.9L256.7 608.3L253.5 606.8L250.4 605.2L247.2 603.6L244 602L240.9 600.4" stroke="#ff00ff" stroke-width="1" fill="none" clip-path="url(#cib)"/>
<path d="M328.9 659.2h3.1l2.1 2.6l-2.1 2.6h-3.1zM325.4 648.5h3.1l2.1 2.6l-2.1 2.6h-3.1zM321 634.3h3.1l2.1 2.6l-2.1 2.6h-3.1zM318.3 632.5h3.1l2.1 2.6l-2.1 2.6h-3.1zM315.6 630.8h3.1l2.1 2.6l-2.1 2.6h-3.1zM312.9 629h3.1l2.1 2.6l-2.1 2.6h-3.1zM309.7 627.9h3.1l2.1 2.6l-2.1 2.6h-3.1zM306.5 626.9h3.1l2.1 2.6l-2.1 2.6h-3.1zM303.2 625.9h3.1l2.1 2.6l-2.1 2.6h-3.1zM300 624.8h3.1l2.1 2.6l-2.1 2.6h-3.1zM296.8 623.7h3.1l2.1 2.6l-2.1 2.6h-3.1zM293.6 622.7h3.1l2.1 2.6l-2.1 2.6h-3.1zM290.6 621.5h3.1l2.1 2.6l-2.1 2.6h-3.1zM287.6 620.3h3.1l2.1 2.6l-2.1 2.6h-3.1zM284.6 619.2h3.1l2.1 2.6l-2.1 2.6h-3.1zM281.6 618h3.1l2.1 2.6l-2.1 2.6h-3.1zM278.6 616.8h3.1l2.1 2.6l-2.1 2.6h-3.1zM275.7 615.6h3.1l2.1 2.6l-2.1 2.6h-3.1zM272.7 614.5h3.1l2.1 2.6l-2.1 2.6h-3.1zM269.7 613.3h3.1l2.1 2.6l-2.1 2.6h-3.1zM266.7 612.1h3.1l2.1 2.6l-2.1 2.6h-3.1zM263.6 610.5h3.1l2.1 2.6l-2.1 2.6h-3.1zM260.4 608.9h3.1l2.1 2.6l-2.1 2.6h-3.1zM257.2 607.3h3.1l2.1 2.6l-2.1 2.6h-3.1zM254.1 605.7h3.1l2.1 2.6l-2.1 2.6h-3.1zM250.9 604.2h3.1l2.1 2.6l-2.1 2.6h-3.1zM247.8 602.6h3.1l2.1 2.6l-2.1 2.6h-3.1zM244.6 601h3.1l2.1 2.6l-2.1 2.6h-3.1zM241.4 599.4h3.1l2.1 2.6l-2.1 2.6h-3.1zM238.3 597.8h3.1l2.1 2.6l-2.1 2.6h-3.1z" fill="#ff00ff" clip-path="url(#cib)"/>
<path d="M240.9 601L244 602.9L247.2 604.8L250.4 606.7L253.5 608.6L256.7 610.4L259.8 612.3L263 614.2L266.2 616.1L269.3 618L272.3 619.7L275.2 621.3L278.2 623L281.2 624.7L284.1 626.3L287.1 628L289.9 630L292.7 632L295.5 634L298.4 636L301.2 638L304.2 641.3L307.2 644.7L310.2 648L312.9 690L314.2 694L317.3 692L320.3 690L323.3 687.5L326.3 685" stroke="#ff00ff" stroke-width="1" fill="none" clip-path="url(#cib)"/>
<path d="M238.3 598.4h3.1l2.1 2.6l-2.1 2.6h-3.1zM241.4 600.3h3.1l2.1 2.6l-2.1 2.6h-3.1zM244.6 602.2h3.1l2.1 2.6l-2.1 2.6h-3.1zM247.8 604.1h3.1l2.1 2.6l-2.1 2.6h-3.1zM250.9 606h3.1l2.1 2.6l-2.1 2.6h-3.1zM254.1 607.8h3.1l2.1 2.6l-2.1 2.6h-3.1zM257.2 609.7h3.1l2.1 2.6l-2.1 2.6h-3.1zM260.4 611.6h3.1l2.1 2.6l-2.1 2.6h-3.1zM263.6 613.5h3.1l2.1 2.6l-2.1 2.6h-3.1zM266.7 615.4h3.1l2.1 2.6l-2.1 2.6h-3.1zM269.7 617.1h3.1l2.1 2.6l-2.1 2.6h-3.1zM272.6 618.7h3.1l2.1 2.6l-2.1 2.6h-3.1zM275.6 620.4h3.1l2.1 2.6l-2.1 2.6h-3.1zM278.6 622.1h3.1l2.1 2.6l-2.1 2.6h-3.1zM281.5 623.7h3.1l2.1 2.6l-2.1 2.6h-3.1zM284.5 625.4h3.1l2.1 2.6l-2.1 2.6h-3.1zM287.3 627.4h3.1l2.1 2.6l-2.1 2.6h-3.1zM290.1 629.4h3.1l2.1 2.6l-2.1 2.6h-3.1zM292.9 631.4h3.1l2.1 2.6l-2.1 2.6h-3.1zM295.8 633.4h3.1l2.1 2.6l-2.1 2.6h-3.1zM298.6 635.4h3.1l2.1 2.6l-2.1 2.6h-3.1zM301.6 638.7h3.1l2.1 2.6l-2.1 2.6h-3.1zM304.6 642.1h3.1l2.1 2.6l-2.1 2.6h-3.1zM307.6 645.4h3.1l2.1 2.6l-2.1 2.6h-3.1zM310.3 687.4h3.1l2.1 2.6l-2.1 2.6h-3.1zM311.6 691.4h3.1l2.1 2.6l-2.1 2.6h-3.1zM314.7 689.4h3.1l2.1 2.6l-2.1 2.6h-3.1zM317.7 687.4h3.1l2.1 2.6l-2.1 2.6h-3.1zM320.7 684.9h3.1l2.1 2.6l-2.1 2.6h-3.1zM323.7 682.4h3.1l2.1 2.6l-2.1 2.6h-3.1z" fill="#ff00ff" clip-path="url(#cib)"/>
<path d="M326.3 690L330.3 676L332.6 673.7L334.9 671.4L338.2 669L341.4 666.5L344.1 663.8L346.7 661.1L349.4 658.4L352.1 655.1L354.8 651.9L357.5 648.6L361 643.7L364.5 638.8L367.5 633.1L370.5 627.4L373 621.7L375.5 616L378.1 611.1L380.6 606.2L383.1 602.2L385.6 598.1L388.6 589.9L391.1 585.8L393.6 581.8L396.3 578.5L399 575.3L401.7 572L404.2 567L406.7 562" stroke="#000" stroke-width="1" fill="none" clip-path="url(#cib)"/>
<path d="M323.7 687.4h3.1l2.1 2.6l-2.1 2.6h-3.1zM327.7 673.4h3.1l2.1 2.6l-2.1 2.6h-3.1zM330 671.1h3.1l2.1 2.6l-2.1 2.6h-3.1zM332.3 668.8h3.1l2.1 2.6l-2.1 2.6h-3.1zM335.6 666.4h3.1l2.1 2.6l-2.1 2.6h-3.1zM338.8 663.9h3.1l2.1 2.6l-2.1 2.6h-3.1zM341.5 661.2h3.1l2.1 2.6l-2.1 2.6h-3.1zM344.1 658.5h3.1l2.1 2.6l-2.1 2.6h-3.1zM346.8 655.8h3.1l2.1 2.6l-2.1 2.6h-3.1zM349.5 652.5h3.1l2.1 2.6l-2.1 2.6h-3.1zM352.2 649.3h3.1l2.1 2.6l-2.1 2.6h-3.1zM354.9 646h3.1l2.1 2.6l-2.1 2.6h-3.1zM358.4 641.1h3.1l2.1 2.6l-2.1 2.6h-3.1zM361.9 636.2h3.1l2.1 2.6l-2.1 2.6h-3.1zM364.9 630.5h3.1l2.1 2.6l-2.1 2.6h-3.1zM367.9 624.8h3.1l2.1 2.6l-2.1 2.6h-3.1zM370.4 619.1h3.1l2.1 2.6l-2.1 2.6h-3.1zM372.9 613.4h3.1l2.1 2.6l-2.1 2.6h-3.1zM375.5 608.5h3.1l2.1 2.6l-2.1 2.6h-3.1zM378 603.6h3.1l2.1 2.6l-2.1 2.6h-3.1zM380.5 599.6h3.1l2.1 2.6l-2.1 2.6h-3.1zM383 595.5h3.1l2.1 2.6l-2.1 2.6h-3.1zM386 587.3h3.1l2.1 2.6l-2.1 2.6h-3.1zM388.5 583.2h3.1l2.1 2.6l-2.1 2.6h-3.1zM391 579.2h3.1l2.1 2.6l-2.1 2.6h-3.1zM393.7 575.9h3.1l2.1 2.6l-2.1 2.6h-3.1zM396.4 572.7h3.1l2.1 2.6l-2.1 2.6h-3.1zM399.1 569.4h3.1l2.1 2.6l-2.1 2.6h-3.1zM401.6 564.4h3.1l2.1 2.6l-2.1 2.6h-3.1zM404.1 559.4h3.1l2.1 2.6l-2.1 2.6h-3.1z" fill="#000" clip-path="url(#cib)"/>
<path d="M406.7 561.4L403.8 562.4L400.9 563.5L398 564.5L395.1 565.5L392.3 566.7L389.4 568L386.5 569.2L383.6 570.4L380.8 572.4L378.1 574.5L375.3 576.5L372.5 578.5L369.2 581.8L365.8 585L362.5 588.3L359.8 591.6L357.1 594.8L354.4 598.1L351.2 603.8L347.9 609.5L345.4 615.2L343 620.9L339 635.6L336.4 651.9L333.3 668L330.3 680" stroke="#000" stroke-width="1" fill="none" clip-path="url(#cib)"/>
<path d="M404.1 558.8h3.1l2.1 2.6l-2.1 2.6h-3.1zM401.2 559.8h3.1l2.1 2.6l-2.1 2.6h-3.1zM398.3 560.9h3.1l2.1 2.6l-2.1 2.6h-3.1zM395.4 561.9h3.1l2.1 2.6l-2.1 2.6h-3.1zM392.5 562.9h3.1l2.1 2.6l-2.1 2.6h-3.1zM389.7 564.1h3.1l2.1 2.6l-2.1 2.6h-3.1zM386.8 565.4h3.1l2.1 2.6l-2.1 2.6h-3.1zM383.9 566.6h3.1l2.1 2.6l-2.1 2.6h-3.1zM381 567.8h3.1l2.1 2.6l-2.1 2.6h-3.1zM378.2 569.8h3.1l2.1 2.6l-2.1 2.6h-3.1zM375.5 571.9h3.1l2.1 2.6l-2.1 2.6h-3.1zM372.7 573.9h3.1l2.1 2.6l-2.1 2.6h-3.1zM369.9 575.9h3.1l2.1 2.6l-2.1 2.6h-3.1zM366.6 579.2h3.1l2.1 2.6l-2.1 2.6h-3.1zM363.2 582.4h3.1l2.1 2.6l-2.1 2.6h-3.1zM359.9 585.7h3.1l2.1 2.6l-2.1 2.6h-3.1zM357.2 589h3.1l2.1 2.6l-2.1 2.6h-3.1zM354.5 592.2h3.1l2.1 2.6l-2.1 2.6h-3.1zM351.8 595.5h3.1l2.1 2.6l-2.1 2.6h-3.1zM348.6 601.2h3.1l2.1 2.6l-2.1 2.6h-3.1zM345.3 606.9h3.1l2.1 2.6l-2.1 2.6h-3.1zM342.8 612.6h3.1l2.1 2.6l-2.1 2.6h-3.1zM340.4 618.3h3.1l2.1 2.6l-2.1 2.6h-3.1zM336.4 633h3.1l2.1 2.6l-2.1 2.6h-3.1zM333.8 649.3h3.1l2.1 2.6l-2.1 2.6h-3.1zM330.7 665.4h3.1l2.1 2.6l-2.1 2.6h-3.1zM327.7 677.4h3.1l2.1 2.6l-2.1 2.6h-3.1z" fill="#000" clip-path="url(#cib)"/>
<path d="M330.3 680L329.8 679.6L327.1 671.6L324.4 663.6L321.7 659.2L319.1 654.7L316.4 652.9L313.7 651.2L311.1 649.4L308.4 647.6L305.3 645.4L302.3 643.2L299.2 640.9L296.2 638.7L292.8 636.5L289.4 634.2L286.1 632L283.3 630.1L280.5 628.3L277.7 626.5L274.9 624.6L272.1 622.8L269.3 620.9L266 618.7L262.6 616.5L259.3 614.2L255.9 612L253.3 610.2L250.6 608.5L248 606.7L245.3 604.9" stroke="#000" stroke-width="1" fill="none" clip-path="url(#cib)"/>
<path d="M327.7 677.4h3.1l2.1 2.6l-2.1 2.6h-3.1zM327.2 677h3.1l2.1 2.6l-2.1 2.6h-3.1zM324.5 669h3.1l2.1 2.6l-2.1 2.6h-3.1zM321.8 661h3.1l2.1 2.6l-2.1 2.6h-3.1zM319.1 656.6h3.1l2.1 2.6l-2.1 2.6h-3.1zM316.5 652.1h3.1l2.1 2.6l-2.1 2.6h-3.1zM313.8 650.3h3.1l2.1 2.6l-2.1 2.6h-3.1zM311.1 648.6h3.1l2.1 2.6l-2.1 2.6h-3.1zM308.5 646.8h3.1l2.1 2.6l-2.1 2.6h-3.1zM305.8 645h3.1l2.1 2.6l-2.1 2.6h-3.1zM302.7 642.8h3.1l2.1 2.6l-2.1 2.6h-3.1zM299.7 640.6h3.1l2.1 2.6l-2.1 2.6h-3.1zM296.6 638.3h3.1l2.1 2.6l-2.1 2.6h-3.1zM293.6 636.1h3.1l2.1 2.6l-2.1 2.6h-3.1zM290.2 633.9h3.1l2.1 2.6l-2.1 2.6h-3.1zM286.8 631.6h3.1l2.1 2.6l-2.1 2.6h-3.1zM283.5 629.4h3.1l2.1 2.6l-2.1 2.6h-3.1zM280.7 627.5h3.1l2.1 2.6l-2.1 2.6h-3.1zM277.9 625.7h3.1l2.1 2.6l-2.1 2.6h-3.1zM275.1 623.9h3.1l2.1 2.6l-2.1 2.6h-3.1zM272.3 622h3.1l2.1 2.6l-2.1 2.6h-3.1zM269.5 620.1h3.1l2.1 2.6l-2.1 2.6h-3.1zM266.7 618.3h3.1l2.1 2.6l-2.1 2.6h-3.1zM263.4 616.1h3.1l2.1 2.6l-2.1 2.6h-3.1zM260 613.9h3.1l2.1 2.6l-2.1 2.6h-3.1zM256.7 611.6h3.1l2.1 2.6l-2.1 2.6h-3.1zM253.3 609.4h3.1l2.1 2.6l-2.1 2.6h-3.1zM250.7 607.6h3.1l2.1 2.6l-2.1 2.6h-3.1zM248 605.9h3.1l2.1 2.6l-2.1 2.6h-3.1zM245.4 604.1h3.1l2.1 2.6l-2.1 2.6h-3.1zM242.7 602.3h3.1l2.1 2.6l-2.1 2.6h-3.1z" fill="#000" clip-path="url(#cib)"/>
<path d="M245.3 605.5L248.3 607.6L251.3 609.6L254.3 611.7L257.3 613.8L260.3 615.8L263.3 617.9L266.3 619.9L269.3 622L272.3 625.1L275.2 628.1L278.2 631.2L281.2 634.3L284.1 637.3L287.1 640.4L289.9 642.5L292.8 644.7L295.6 646.8L298.4 649L301.3 651.1L304.3 655.3L307.2 659.4L310.2 663.6L312.5 668L314.7 672.4L316.2 706L318.9 706L321.6 706L324.3 706L326.3 690" stroke="#000" stroke-width="1" fill="none" clip-path="url(#cib)"/>
<path d="M242.7 602.9h3.1l2.1 2.6l-2.1 2.6h-3.1zM245.7 605h3.1l2.1 2.6l-2.1 2.6h-3.1zM248.7 607h3.1l2.1 2.6l-2.1 2.6h-3.1zM251.7 609.1h3.1l2.1 2.6l-2.1 2.6h-3.1zM254.7 611.1h3.1l2.1 2.6l-2.1 2.6h-3.1zM257.7 613.2h3.1l2.1 2.6l-2.1 2.6h-3.1zM260.7 615.3h3.1l2.1 2.6l-2.1 2.6h-3.1zM263.7 617.3h3.1l2.1 2.6l-2.1 2.6h-3.1zM266.7 619.4h3.1l2.1 2.6l-2.1 2.6h-3.1zM269.7 622.5h3.1l2.1 2.6l-2.1 2.6h-3.1zM272.6 625.5h3.1l2.1 2.6l-2.1 2.6h-3.1zM275.6 628.6h3.1l2.1 2.6l-2.1 2.6h-3.1zM278.6 631.7h3.1l2.1 2.6l-2.1 2.6h-3.1zM281.5 634.7h3.1l2.1 2.6l-2.1 2.6h-3.1zM284.5 637.8h3.1l2.1 2.6l-2.1 2.6h-3.1zM287.3 639.9h3.1l2.1 2.6l-2.1 2.6h-3.1zM290.2 642.1h3.1l2.1 2.6l-2.1 2.6h-3.1zM293 644.2h3.1l2.1 2.6l-2.1 2.6h-3.1zM295.8 646.4h3.1l2.1 2.6l-2.1 2.6h-3.1zM298.7 648.5h3.1l2.1 2.6l-2.1 2.6h-3.1zM301.7 652.7h3.1l2.1 2.6l-2.1 2.6h-3.1zM304.6 656.8h3.1l2.1 2.6l-2.1 2.6h-3.1zM307.6 661h3.1l2.1 2.6l-2.1 2.6h-3.1zM309.9 665.4h3.1l2.1 2.6l-2.1 2.6h-3.1zM312.1 669.8h3.1l2.1 2.6l-2.1 2.6h-3.1zM313.6 703.4h3.1l2.1 2.6l-2.1 2.6h-3.1zM316.3 703.4h3.1l2.1 2.6l-2.1 2.6h-3.1zM319 703.4h3.1l2.1 2.6l-2.1 2.6h-3.1zM321.7 703.4h3.1l2.1 2.6l-2.1 2.6h-3.1zM323.7 687.4h3.1l2.1 2.6l-2.1 2.6h-3.1z" fill="#000" clip-path="url(#cib)"/>
<path d="M225.8 704.9v-3M245.9 704.9v-3M266 704.9v-3M286.1 704.9v-3M306.2 704.9v-3M326.3 704.9v-3M346.4 704.9v-3M366.5 704.9v-3M386.6 704.9v-3M406.7 704.9v-3M426.8 704.9v-3M216.4 704.9h3M216.4 676.9h3M216.4 649h3M216.4 621.1h3M216.4 593.2h3M216.4 565.2h3M216.4 537.3h3" stroke="#000" stroke-width="1.4" fill="none"/>
<rect x="216.4" y="528.7" width="220.5" height="176.2" fill="none" stroke="#222" stroke-width="1.5"/>
<text x="210.9" y="542.1" font-size="17.5" fill="#222" text-anchor="end" >1E-4</text>
<text x="210.9" y="598" font-size="17.5" fill="#222" text-anchor="end" >1E-6</text>
<text x="210.9" y="653.8" font-size="17.5" fill="#222" text-anchor="end" >1E-8</text>
<text x="210.9" y="709.7" font-size="17.5" fill="#222" text-anchor="end" >1E-10</text>
<text x="245.9" y="723.4" font-size="17.5" fill="#222" text-anchor="middle" >-8</text>
<text x="286.1" y="723.4" font-size="17.5" fill="#222" text-anchor="middle" >-4</text>
<text x="326.3" y="723.4" font-size="17.5" fill="#222" text-anchor="middle" >0</text>
<text x="366.5" y="723.4" font-size="17.5" fill="#222" text-anchor="middle" >4</text>
<text x="406.7" y="723.4" font-size="17.5" fill="#222" text-anchor="middle" >8</text>
<text x="326.3" y="739.4" font-size="18" fill="#222" text-anchor="middle" >Voltage (V)</text>
<text x="0" y="0" font-size="17.8" fill="#222" text-anchor="middle" transform="translate(161.4 616.3) rotate(-90)">|Current| (A)</text>
<path d="M225.4 539.6h40" stroke="#1515dd" stroke-width="1.3"/>
<path d="M243.4 536.6h3.6l2.4 3l-2.4 3h-3.6z" fill="#1515dd"/>
<text x="272.9" y="545.2" font-size="18" fill="#1515dd" text-anchor="start" >9.0 V</text>
<path d="M225.4 562.4h40" stroke="#ee22ee" stroke-width="1.3"/>
<path d="M243.4 559.4h3.6l2.4 3l-2.4 3h-3.6z" fill="#ee22ee"/>
<text x="272.9" y="568" font-size="18" fill="#ee22ee" text-anchor="start" >8.5 V</text>
<path d="M225.4 584.9h40" stroke="#111" stroke-width="1.3"/>
<path d="M243.4 581.9h3.6l2.4 3l-2.4 3h-3.6z" fill="#111"/>
<text x="272.9" y="590.5" font-size="18" fill="#111" text-anchor="start" >8.0 V</text>
<path d="M379.9 541.5L359.4 561.5" stroke="#000" stroke-width="2.6" fill="none"/>
<path d="M354.4 566.4L357.7 558.3L362.6 563.3z" fill="#000"/>
<path d="M369.5 658.7L384.3 636.5" stroke="#000" stroke-width="2.6" fill="none"/>
<path d="M388.2 630.7L386.7 639.3L380.8 635.4z" fill="#000"/>
<path d="M322.7 630.7L294.2 615.3" stroke="#000" stroke-width="2.6" fill="none"/>
<path d="M288 612L296.7 612.7L293.4 618.9z" fill="#000"/>
<path d="M278.2 638.7L294.6 655.1" stroke="#000" stroke-width="2.6" fill="none"/>
<path d="M299.6 660L291.5 656.8L296.4 651.9z" fill="#000"/>
<text x="347.7" y="543.7" font-size="19" fill="#333" text-anchor="start" >(2)</text>
<text x="374.6" y="662" font-size="19" fill="#333" text-anchor="start" >(1)</text>
<text x="303.8" y="616.9" font-size="19" fill="#333" text-anchor="start" >(3)</text>
<text x="265.6" y="667.6" font-size="19" fill="#333" text-anchor="start" >(4)</text>
<path d="M153 1491v-7M213.9 1491v-3M274.8 1491v-7M335.7 1491v-3M396.6 1491v-7M457.5 1491v-3M518.4 1491v-7M579.3 1491v-3M640.2 1491v-7M123 1491h10M123 1469.9h5M123 1457.6h5M123 1448.9h5M123 1442.1h5M123 1436.6h5M123 1431.9h5M123 1427.8h5M123 1424.3h5M123 1421h10M123 1400h5M123 1387.7h5M123 1378.9h5M123 1372.2h5M123 1366.6h5M123 1361.9h5M123 1357.9h5M123 1354.3h5M123 1351.1h10M123 1330h5M123 1317.7h5M123 1309h5M123 1302.2h5M123 1296.7h5M123 1292h5M123 1287.9h5M123 1284.4h5M123 1281.2h10M123 1260.1h5M123 1247.8h5M123 1239h5M123 1232.3h5M123 1226.7h5M123 1222h5M123 1218h5M123 1214.4h5M123 1211.2h10M123 1190.1h5M123 1177.8h5M123 1169.1h5M123 1162.3h5M123 1156.8h5M123 1152.1h5M123 1148h5M123 1144.5h5M123 1141.2h10M123 1120.2h5M123 1107.9h5M123 1099.1h5M123 1092.4h5M123 1086.8h5M123 1082.1h5M123 1078.1h5M123 1074.5h5M123 1071.3h10" stroke="#000" stroke-width="1.6" fill="none"/>
<rect x="123" y="1050.2" width="548" height="440.8" fill="none" stroke="#111" stroke-width="2"/>
<text x="112.4" y="1079.5" font-size="29" fill="#000" text-anchor="end" >1E-4</text>
<text x="112.4" y="1219.4" font-size="29" fill="#000" text-anchor="end" >1E-6</text>
<text x="112.4" y="1359.3" font-size="29" fill="#000" text-anchor="end" >1E-8</text>
<text x="112.4" y="1499.2" font-size="29" fill="#000" text-anchor="end" >1E-10</text>
<text x="153" y="1522.5" font-size="30" fill="#000" text-anchor="middle" >-8</text>
<text x="274.8" y="1522.5" font-size="30" fill="#000" text-anchor="middle" >-4</text>
<text x="396.6" y="1522.5" font-size="30" fill="#000" text-anchor="middle" >0</text>
<text x="518.4" y="1522.5" font-size="30" fill="#000" text-anchor="middle" >4</text>
<text x="640.2" y="1522.5" font-size="30" fill="#000" text-anchor="middle" >8</text>
<text x="396.6" y="1558.3" font-size="30" fill="#000" text-anchor="middle" >Voltage (V)</text>
<text x="0" y="0" font-size="29" text-anchor="middle" transform="translate(25.2 1269) rotate(-90)">|Current| (A)</text>
<path d="M396.6 1479L408.8 1435L421 1424L433.1 1400L445.3 1392L457.5 1384L469.7 1375L481.9 1363L494 1341L506.2 1312L518.4 1288L530.6 1270L542.8 1229L554.9 1213L567.1 1197L579.3 1178L591.5 1162L603.7 1145L615.8 1107L628 1093L640.2 1081" stroke="#000" stroke-width="1.1" fill="none" clip-path="url(#cmc)"/>
<path d="M391.9 1474.3h9.4v9.4h-9.4zM404.1 1430.3h9.4v9.4h-9.4zM416.3 1419.3h9.4v9.4h-9.4zM428.4 1395.3h9.4v9.4h-9.4zM440.6 1387.3h9.4v9.4h-9.4zM452.8 1379.3h9.4v9.4h-9.4zM465 1370.3h9.4v9.4h-9.4zM477.2 1358.3h9.4v9.4h-9.4zM489.3 1336.3h9.4v9.4h-9.4zM501.5 1307.3h9.4v9.4h-9.4zM513.7 1283.3h9.4v9.4h-9.4zM525.9 1265.3h9.4v9.4h-9.4zM538.1 1224.3h9.4v9.4h-9.4zM550.2 1208.3h9.4v9.4h-9.4zM562.4 1192.3h9.4v9.4h-9.4zM574.6 1173.3h9.4v9.4h-9.4zM586.8 1157.3h9.4v9.4h-9.4zM599 1140.3h9.4v9.4h-9.4zM611.1 1102.3h9.4v9.4h-9.4zM623.3 1088.3h9.4v9.4h-9.4zM635.5 1076.3h9.4v9.4h-9.4z" fill="#000" clip-path="url(#cmc)"/>
<path d="M640.2 1079L628 1078L615.8 1081L603.7 1085L591.5 1089L579.3 1094L567.1 1099L554.9 1105L542.8 1111L530.6 1118L518.4 1127L506.2 1135L494 1145L481.9 1158L469.7 1175L457.5 1195L445.3 1231L433.1 1279L421 1344L408.8 1397L396.6 1409" stroke="#000" stroke-width="1.1" fill="none" clip-path="url(#cmc)"/>
<path d="M635.5 1074.3h9.4v9.4h-9.4zM623.3 1073.3h9.4v9.4h-9.4zM611.1 1076.3h9.4v9.4h-9.4zM599 1080.3h9.4v9.4h-9.4zM586.8 1084.3h9.4v9.4h-9.4zM574.6 1089.3h9.4v9.4h-9.4zM562.4 1094.3h9.4v9.4h-9.4zM550.2 1100.3h9.4v9.4h-9.4zM538.1 1106.3h9.4v9.4h-9.4zM525.9 1113.3h9.4v9.4h-9.4zM513.7 1122.3h9.4v9.4h-9.4zM501.5 1130.3h9.4v9.4h-9.4zM489.3 1140.3h9.4v9.4h-9.4zM477.2 1153.3h9.4v9.4h-9.4zM465 1170.3h9.4v9.4h-9.4zM452.8 1190.3h9.4v9.4h-9.4zM440.6 1226.3h9.4v9.4h-9.4zM428.4 1274.3h9.4v9.4h-9.4zM416.3 1339.3h9.4v9.4h-9.4zM404.1 1392.3h9.4v9.4h-9.4zM391.9 1404.3h9.4v9.4h-9.4z" fill="#000" clip-path="url(#cmc)"/>
<path d="M396.6 1409L384.4 1364L372.2 1356L360.1 1351L347.9 1346L335.7 1339L323.5 1332.6L311.3 1327L299.2 1321.5L287 1318L274.8 1309L262.6 1300L250.4 1293L238.3 1286L226.1 1278L213.9 1271L201.7 1265L189.5 1258L177.4 1251L165.2 1243L153 1235" stroke="#000" stroke-width="1.1" fill="none" clip-path="url(#cmc)"/>
<path d="M391.9 1404.3h9.4v9.4h-9.4zM379.7 1359.3h9.4v9.4h-9.4zM367.5 1351.3h9.4v9.4h-9.4zM355.4 1346.3h9.4v9.4h-9.4zM343.2 1341.3h9.4v9.4h-9.4zM331 1334.3h9.4v9.4h-9.4zM318.8 1327.9h9.4v9.4h-9.4zM306.6 1322.3h9.4v9.4h-9.4zM294.5 1316.8h9.4v9.4h-9.4zM282.3 1313.3h9.4v9.4h-9.4zM270.1 1304.3h9.4v9.4h-9.4zM257.9 1295.3h9.4v9.4h-9.4zM245.7 1288.3h9.4v9.4h-9.4zM233.6 1281.3h9.4v9.4h-9.4zM221.4 1273.3h9.4v9.4h-9.4zM209.2 1266.3h9.4v9.4h-9.4zM197 1260.3h9.4v9.4h-9.4zM184.8 1253.3h9.4v9.4h-9.4zM172.7 1246.3h9.4v9.4h-9.4zM160.5 1238.3h9.4v9.4h-9.4zM148.3 1230.3h9.4v9.4h-9.4z" fill="#000" clip-path="url(#cmc)"/>
<path d="M153 1251L165.2 1259L177.4 1266.7L189.5 1274.5L201.7 1280.7L213.9 1286.9L226.1 1294.7L238.3 1300.9L250.4 1305.6L262.6 1311L274.8 1319L287 1329.6L299.2 1339L311.3 1351L323.5 1357L335.7 1373L347.9 1395L360.1 1425L372.2 1472L384.4 1424L396.6 1479" stroke="#000" stroke-width="1.1" fill="none" clip-path="url(#cmc)"/>
<path d="M148.3 1246.3h9.4v9.4h-9.4zM160.5 1254.3h9.4v9.4h-9.4zM172.7 1262h9.4v9.4h-9.4zM184.8 1269.8h9.4v9.4h-9.4zM197 1276h9.4v9.4h-9.4zM209.2 1282.2h9.4v9.4h-9.4zM221.4 1290h9.4v9.4h-9.4zM233.6 1296.2h9.4v9.4h-9.4zM245.7 1300.9h9.4v9.4h-9.4zM257.9 1306.3h9.4v9.4h-9.4zM270.1 1314.3h9.4v9.4h-9.4zM282.3 1324.9h9.4v9.4h-9.4zM294.5 1334.3h9.4v9.4h-9.4zM306.6 1346.3h9.4v9.4h-9.4zM318.8 1352.3h9.4v9.4h-9.4zM331 1368.3h9.4v9.4h-9.4zM343.2 1390.3h9.4v9.4h-9.4zM355.4 1420.3h9.4v9.4h-9.4zM367.5 1467.3h9.4v9.4h-9.4zM379.7 1419.3h9.4v9.4h-9.4zM391.9 1474.3h9.4v9.4h-9.4z" fill="#000" clip-path="url(#cmc)"/>
<path d="M396.6 1405L384.4 1415L372.2 1387L360.1 1369L347.9 1356L335.7 1347L323.5 1338.5L311.3 1333L299.2 1325L287 1318L274.8 1308L262.6 1299L250.4 1292L238.3 1285L226.1 1277L213.9 1270L201.7 1264L189.5 1257L177.4 1250L165.2 1242L153 1234" stroke="#ff0000" stroke-width="1.1" fill="none" clip-path="url(#cmc)"/>
<path d="M391.9 1400.3h9.4v9.4h-9.4zM379.7 1410.3h9.4v9.4h-9.4zM367.5 1382.3h9.4v9.4h-9.4zM355.4 1364.3h9.4v9.4h-9.4zM343.2 1351.3h9.4v9.4h-9.4zM331 1342.3h9.4v9.4h-9.4zM318.8 1333.8h9.4v9.4h-9.4zM306.6 1328.3h9.4v9.4h-9.4zM294.5 1320.3h9.4v9.4h-9.4zM282.3 1313.3h9.4v9.4h-9.4zM270.1 1303.3h9.4v9.4h-9.4zM257.9 1294.3h9.4v9.4h-9.4zM245.7 1287.3h9.4v9.4h-9.4zM233.6 1280.3h9.4v9.4h-9.4zM221.4 1272.3h9.4v9.4h-9.4zM209.2 1265.3h9.4v9.4h-9.4zM197 1259.3h9.4v9.4h-9.4zM184.8 1252.3h9.4v9.4h-9.4zM172.7 1245.3h9.4v9.4h-9.4zM160.5 1237.3h9.4v9.4h-9.4zM148.3 1229.3h9.4v9.4h-9.4z" fill="#ff0000" clip-path="url(#cmc)"/>
<path d="M153 1234L165.2 1242L177.4 1250L189.5 1257L201.7 1264L213.9 1270L226.1 1277L238.3 1285L250.4 1292L262.6 1299L274.8 1308L287 1318L299.2 1331L311.3 1345L323.5 1362L335.7 1389L347.9 1436L360.1 1440L372.2 1425L384.4 1484L396.6 1488" stroke="#ff0000" stroke-width="1.1" fill="none" clip-path="url(#cmc)"/>
<path d="M148.3 1229.3h9.4v9.4h-9.4zM160.5 1237.3h9.4v9.4h-9.4zM172.7 1245.3h9.4v9.4h-9.4zM184.8 1252.3h9.4v9.4h-9.4zM197 1259.3h9.4v9.4h-9.4zM209.2 1265.3h9.4v9.4h-9.4zM221.4 1272.3h9.4v9.4h-9.4zM233.6 1280.3h9.4v9.4h-9.4zM245.7 1287.3h9.4v9.4h-9.4zM257.9 1294.3h9.4v9.4h-9.4zM270.1 1303.3h9.4v9.4h-9.4zM282.3 1313.3h9.4v9.4h-9.4zM294.5 1326.3h9.4v9.4h-9.4zM306.6 1340.3h9.4v9.4h-9.4zM318.8 1357.3h9.4v9.4h-9.4zM331 1384.3h9.4v9.4h-9.4zM343.2 1431.3h9.4v9.4h-9.4zM355.4 1435.3h9.4v9.4h-9.4zM367.5 1420.3h9.4v9.4h-9.4zM379.7 1479.3h9.4v9.4h-9.4zM391.9 1483.3h9.4v9.4h-9.4z" fill="#ff0000" clip-path="url(#cmc)"/>
<path d="M396.6 1431L408.8 1403L421 1399L433.1 1398L445.3 1388L457.5 1376L469.7 1361L481.9 1344L494 1324L506.2 1303L518.4 1281L530.6 1259L542.8 1236L554.9 1211L567.1 1186L579.3 1162L591.5 1147L603.7 1136L615.8 1118L628 1098.5L640.2 1076" stroke="#ff0000" stroke-width="1.1" fill="none" clip-path="url(#cmc)"/>
<path d="M391.9 1426.3h9.4v9.4h-9.4zM404.1 1398.3h9.4v9.4h-9.4zM416.3 1394.3h9.4v9.4h-9.4zM428.4 1393.3h9.4v9.4h-9.4zM440.6 1383.3h9.4v9.4h-9.4zM452.8 1371.3h9.4v9.4h-9.4zM465 1356.3h9.4v9.4h-9.4zM477.2 1339.3h9.4v9.4h-9.4zM489.3 1319.3h9.4v9.4h-9.4zM501.5 1298.3h9.4v9.4h-9.4zM513.7 1276.3h9.4v9.4h-9.4zM525.9 1254.3h9.4v9.4h-9.4zM538.1 1231.3h9.4v9.4h-9.4zM550.2 1206.3h9.4v9.4h-9.4zM562.4 1181.3h9.4v9.4h-9.4zM574.6 1157.3h9.4v9.4h-9.4zM586.8 1142.3h9.4v9.4h-9.4zM599 1131.3h9.4v9.4h-9.4zM611.1 1113.3h9.4v9.4h-9.4zM623.3 1093.8h9.4v9.4h-9.4zM635.5 1071.3h9.4v9.4h-9.4z" fill="#ff0000" clip-path="url(#cmc)"/>
<path d="M640.2 1071L628 1074L615.8 1077L603.7 1081L591.5 1086L579.3 1091L567.1 1096L554.9 1102L542.8 1107.5L530.6 1114L518.4 1123L506.2 1131L494 1141L481.9 1154L469.7 1171L457.5 1191L445.3 1217L433.1 1250L421 1299L408.8 1385L396.6 1405" stroke="#ff0000" stroke-width="1.1" fill="none" clip-path="url(#cmc)"/>
<path d="M635.5 1066.3h9.4v9.4h-9.4zM623.3 1069.3h9.4v9.4h-9.4zM611.1 1072.3h9.4v9.4h-9.4zM599 1076.3h9.4v9.4h-9.4zM586.8 1081.3h9.4v9.4h-9.4zM574.6 1086.3h9.4v9.4h-9.4zM562.4 1091.3h9.4v9.4h-9.4zM550.2 1097.3h9.4v9.4h-9.4zM538.1 1102.8h9.4v9.4h-9.4zM525.9 1109.3h9.4v9.4h-9.4zM513.7 1118.3h9.4v9.4h-9.4zM501.5 1126.3h9.4v9.4h-9.4zM489.3 1136.3h9.4v9.4h-9.4zM477.2 1149.3h9.4v9.4h-9.4zM465 1166.3h9.4v9.4h-9.4zM452.8 1186.3h9.4v9.4h-9.4zM440.6 1212.3h9.4v9.4h-9.4zM428.4 1245.3h9.4v9.4h-9.4zM416.3 1294.3h9.4v9.4h-9.4zM404.1 1380.3h9.4v9.4h-9.4zM391.9 1400.3h9.4v9.4h-9.4z" fill="#ff0000" clip-path="url(#cmc)"/>
<path d="M433 1446.4h42" stroke="#000" stroke-width="1.4"/>
<path d="M449.7 1441.8h9.2v9.2h-9.2z" fill="#000"/>
<text x="479.4" y="1451.4" font-size="19" fill="#111" text-anchor="start" >0 V</text>
<path d="M509.8 1444.6H518" stroke="#111" stroke-width="1.5"/>
<path d="M522 1444.6L516.5 1441.4L516.5 1447.8z" fill="#111"/>
<text x="524" y="1451.4" font-size="19" fill="#111" text-anchor="start" >+8 V</text>
<path d="M565.4 1444.6H573.6" stroke="#111" stroke-width="1.5"/>
<path d="M577.6 1444.6L572.1 1441.4L572.1 1447.8z" fill="#111"/>
<text x="579.6" y="1451.4" font-size="19" fill="#111" text-anchor="start" >-8 V</text>
<path d="M616.2 1444.6H624.4" stroke="#111" stroke-width="1.5"/>
<path d="M628.4 1444.6L622.9 1441.4L622.9 1447.8z" fill="#111"/>
<text x="630.4" y="1451.4" font-size="19" fill="#111" text-anchor="start" >0 V</text>
<path d="M433 1470.5h42" stroke="#ff0000" stroke-width="1.4"/>
<path d="M449.7 1465.9h9.2v9.2h-9.2z" fill="#ff0000"/>
<text x="479.4" y="1475.5" font-size="19" fill="#e01818" text-anchor="start" >0 V</text>
<path d="M509.8 1468.7H518" stroke="#e01818" stroke-width="1.5"/>
<path d="M522 1468.7L516.5 1465.5L516.5 1471.9z" fill="#e01818"/>
<text x="524" y="1475.5" font-size="19" fill="#e01818" text-anchor="start" >-8 V</text>
<path d="M560.6 1468.7H568.8" stroke="#e01818" stroke-width="1.5"/>
<path d="M572.8 1468.7L567.3 1465.5L567.3 1471.9z" fill="#e01818"/>
<text x="574.8" y="1475.5" font-size="19" fill="#e01818" text-anchor="start" >+8 V</text>
<path d="M616.2 1468.7H624.4" stroke="#e01818" stroke-width="1.5"/>
<path d="M628.4 1468.7L622.9 1465.5L622.9 1471.9z" fill="#e01818"/>
<text x="630.4" y="1475.5" font-size="19" fill="#e01818" text-anchor="start" >0 V</text>
<path d="M363.5 1340.4L291.4 1303.7" stroke="#1ee81e" stroke-width="3" fill="none"/>
<path d="M282.9 1299.4L294.2 1300.4L290.3 1307.9z" fill="#1ee81e"/>
<path d="M247.1 1327.1L307.8 1368.8" stroke="#1ee81e" stroke-width="3" fill="none"/>
<path d="M315.6 1374.2L304.5 1371.8L309.4 1364.7z" fill="#1ee81e"/>
<path d="M587.3 1075.2L526.3 1102.4" stroke="#1ee81e" stroke-width="3" fill="none"/>
<path d="M517.6 1106.3L525.5 1098.1L528.9 1105.9z" fill="#1ee81e"/>
<path d="M519.4 1316.7L558.2 1251.4" stroke="#1ee81e" stroke-width="3" fill="none"/>
<path d="M563 1243.2L561.3 1254.4L554 1250.1z" fill="#1ee81e"/>
<text x="298.9" y="1298.7" font-size="27" fill="#e02424" text-anchor="start" letter-spacing="1.1">(1)</text>
<text x="344.3" y="1320.1" font-size="27" fill="#000" text-anchor="start" letter-spacing="1.1">(3)</text>
<text x="227.6" y="1362.5" font-size="27" fill="#000" text-anchor="start" letter-spacing="1.1">(4)</text>
<text x="273.2" y="1390.9" font-size="27" fill="#e02424" text-anchor="start" letter-spacing="1.1">(2)</text>
<text x="543.6" y="1073.9" font-size="27" fill="#000" text-anchor="start" letter-spacing="1.1">(2)</text>
<text x="504.2" y="1090.2" font-size="27" fill="#e02424" text-anchor="start" letter-spacing="1.1">(4)</text>
<text x="524.3" y="1324.3" font-size="27" fill="#000" text-anchor="start" letter-spacing="1.1">(1)</text>
<text x="550.4" y="1281.3" font-size="27" fill="#e02424" text-anchor="start" letter-spacing="1.1">(3)</text>
<text x="5.3" y="1091.9" font-size="34" fill="#000" text-anchor="start" >(c)</text>
<text x="137.8" y="1471.6" font-size="28" fill="#000" text-anchor="start" >5x10<tspan font-size="16.5" dx="3.5" dy="-13.5">16</tspan><tspan dy="13.5"> cm</tspan><tspan font-size="16.5" dx="1.5" dy="-11">-2</tspan></text>
<text x="461" y="1144.5" font-size="29" fill="#000" text-anchor="start" transform="rotate(-43 461 1144.5)">LRS</text>
<text x="494.6" y="1398.7" font-size="29" fill="#000" text-anchor="start" transform="rotate(-43 494.6 1398.7)">HRS</text>
<rect x="215.6" y="1053.4" width="220.4" height="176.1" fill="#fff" stroke="none"/>
<path d="M324.9 1205L326.9 1230L328.9 1200L332.9 1194L336.4 1189.9L338.9 1187.5L341.4 1185L344.2 1182.8L347 1180.7L349.9 1178.5L352.9 1174.4L355.9 1170.3L358.4 1163.8L360.9 1157.3L363.9 1147.5L367.4 1139.4L369.6 1132.8L371.9 1126.3L374.9 1121.2L377.9 1116L380.2 1112.4L382.5 1108.8L384.9 1105.2L387.9 1096.6L390.9 1088L393.9 1081.8L396.9 1075.5L399.9 1069.3L403.4 1065.7L406.9 1062" stroke="#000" stroke-width="1" fill="none" clip-path="url(#cic)"/>
<path d="M322.2 1202.4h5.2v5.2h-5.2zM324.2 1227.4h5.2v5.2h-5.2zM326.2 1197.4h5.2v5.2h-5.2zM330.2 1191.4h5.2v5.2h-5.2zM333.8 1187.3h5.2v5.2h-5.2zM336.2 1184.9h5.2v5.2h-5.2zM338.8 1182.4h5.2v5.2h-5.2zM341.6 1180.2h5.2v5.2h-5.2zM344.4 1178.1h5.2v5.2h-5.2zM347.2 1175.9h5.2v5.2h-5.2zM350.2 1171.8h5.2v5.2h-5.2zM353.2 1167.7h5.2v5.2h-5.2zM355.8 1161.2h5.2v5.2h-5.2zM358.2 1154.7h5.2v5.2h-5.2zM361.2 1144.9h5.2v5.2h-5.2zM364.8 1136.8h5.2v5.2h-5.2zM367 1130.2h5.2v5.2h-5.2zM369.2 1123.7h5.2v5.2h-5.2zM372.2 1118.6h5.2v5.2h-5.2zM375.2 1113.4h5.2v5.2h-5.2zM377.6 1109.8h5.2v5.2h-5.2zM379.9 1106.2h5.2v5.2h-5.2zM382.2 1102.6h5.2v5.2h-5.2zM385.2 1094h5.2v5.2h-5.2zM388.2 1085.4h5.2v5.2h-5.2zM391.2 1079.2h5.2v5.2h-5.2zM394.2 1072.9h5.2v5.2h-5.2zM397.2 1066.7h5.2v5.2h-5.2zM400.8 1063.1h5.2v5.2h-5.2zM404.2 1059.4h5.2v5.2h-5.2z" fill="#000" clip-path="url(#cic)"/>
<path d="M406.9 1062L403.9 1062.8L400.9 1063.6L397.9 1064.4L394.9 1065.2L392.2 1066.3L389.7 1067.5L387.1 1068.6L384.5 1069.8L381.9 1070.9L379.1 1072.3L376.4 1073.8L373.6 1075.2L370.9 1076.6L368.2 1078.5L365.5 1080.4L362.9 1082.3L359.4 1086.4L355.9 1090.5L352.9 1095.4L349.9 1100.3L347.4 1105.2L344.9 1110L342.7 1117.3L340.6 1124.7L337.2 1142.6L333.9 1170.3L331.4 1180.9L328.9 1191.5L325.9 1200" stroke="#000" stroke-width="1" fill="none" clip-path="url(#cic)"/>
<path d="M404.2 1059.4h5.2v5.2h-5.2zM401.2 1060.2h5.2v5.2h-5.2zM398.2 1061h5.2v5.2h-5.2zM395.2 1061.8h5.2v5.2h-5.2zM392.2 1062.6h5.2v5.2h-5.2zM389.6 1063.7h5.2v5.2h-5.2zM387.1 1064.9h5.2v5.2h-5.2zM384.4 1066h5.2v5.2h-5.2zM381.9 1067.2h5.2v5.2h-5.2zM379.2 1068.3h5.2v5.2h-5.2zM376.5 1069.7h5.2v5.2h-5.2zM373.8 1071.2h5.2v5.2h-5.2zM371 1072.6h5.2v5.2h-5.2zM368.2 1074h5.2v5.2h-5.2zM365.6 1075.9h5.2v5.2h-5.2zM362.9 1077.8h5.2v5.2h-5.2zM360.2 1079.7h5.2v5.2h-5.2zM356.8 1083.8h5.2v5.2h-5.2zM353.2 1087.9h5.2v5.2h-5.2zM350.2 1092.8h5.2v5.2h-5.2zM347.2 1097.7h5.2v5.2h-5.2zM344.8 1102.6h5.2v5.2h-5.2zM342.2 1107.4h5.2v5.2h-5.2zM340.1 1114.8h5.2v5.2h-5.2zM337.9 1122.1h5.2v5.2h-5.2zM334.6 1140h5.2v5.2h-5.2zM331.2 1167.7h5.2v5.2h-5.2zM328.8 1178.3h5.2v5.2h-5.2zM326.2 1188.9h5.2v5.2h-5.2zM323.2 1197.4h5.2v5.2h-5.2z" fill="#000" clip-path="url(#cic)"/>
<path d="M325.9 1200L323.4 1188.2L320.9 1176.4L318.1 1175L315.3 1173.6L312.5 1172.3L309.7 1170.9L307 1169.5L304.2 1168.1L301.4 1166.8L298.6 1165.4L295.9 1164L292.9 1162.2L289.9 1160.4L287 1158.7L284 1156.9L281.1 1155.1L278.1 1153.3L275.2 1151.6L272.2 1149.8L269.2 1148L266.4 1146.3L263.6 1144.7L260.8 1143L258 1141.3L255.1 1139.7L252.3 1138L249.5 1136.3L246.7 1134.7L243.9 1133" stroke="#000" stroke-width="1" fill="none" clip-path="url(#cic)"/>
<path d="M323.2 1197.4h5.2v5.2h-5.2zM320.8 1185.6h5.2v5.2h-5.2zM318.2 1173.8h5.2v5.2h-5.2zM315.5 1172.4h5.2v5.2h-5.2zM312.7 1171h5.2v5.2h-5.2zM309.9 1169.7h5.2v5.2h-5.2zM307.1 1168.3h5.2v5.2h-5.2zM304.4 1166.9h5.2v5.2h-5.2zM301.6 1165.5h5.2v5.2h-5.2zM298.8 1164.2h5.2v5.2h-5.2zM296 1162.8h5.2v5.2h-5.2zM293.2 1161.4h5.2v5.2h-5.2zM290.3 1159.6h5.2v5.2h-5.2zM287.3 1157.8h5.2v5.2h-5.2zM284.4 1156.1h5.2v5.2h-5.2zM281.4 1154.3h5.2v5.2h-5.2zM278.5 1152.5h5.2v5.2h-5.2zM275.5 1150.7h5.2v5.2h-5.2zM272.6 1149h5.2v5.2h-5.2zM269.6 1147.2h5.2v5.2h-5.2zM266.6 1145.4h5.2v5.2h-5.2zM263.8 1143.7h5.2v5.2h-5.2zM261 1142.1h5.2v5.2h-5.2zM258.2 1140.4h5.2v5.2h-5.2zM255.4 1138.7h5.2v5.2h-5.2zM252.5 1137.1h5.2v5.2h-5.2zM249.7 1135.4h5.2v5.2h-5.2zM246.9 1133.7h5.2v5.2h-5.2zM244.1 1132.1h5.2v5.2h-5.2zM241.3 1130.4h5.2v5.2h-5.2z" fill="#000" clip-path="url(#cic)"/>
<path d="M243.9 1134L246.7 1135.8L249.5 1137.6L252.3 1139.3L255.1 1141.1L258 1142.9L260.8 1144.7L263.6 1146.4L266.4 1148.2L269.2 1150L272.2 1151.8L275.2 1153.6L278.1 1155.3L281.1 1157.1L284 1158.9L287 1160.7L289.9 1162.4L292.9 1164.2L295.9 1166L299 1172.2L302.1 1178.3L305.2 1184.5L308.4 1190.7L311.9 1203.1L314.9 1221L317.9 1228L319.9 1205L321.9 1230L324.9 1205" stroke="#000" stroke-width="1" fill="none" clip-path="url(#cic)"/>
<path d="M241.3 1131.4h5.2v5.2h-5.2zM244.1 1133.2h5.2v5.2h-5.2zM246.9 1135h5.2v5.2h-5.2zM249.7 1136.7h5.2v5.2h-5.2zM252.5 1138.5h5.2v5.2h-5.2zM255.4 1140.3h5.2v5.2h-5.2zM258.2 1142.1h5.2v5.2h-5.2zM261 1143.8h5.2v5.2h-5.2zM263.8 1145.6h5.2v5.2h-5.2zM266.6 1147.4h5.2v5.2h-5.2zM269.6 1149.2h5.2v5.2h-5.2zM272.6 1151h5.2v5.2h-5.2zM275.5 1152.7h5.2v5.2h-5.2zM278.5 1154.5h5.2v5.2h-5.2zM281.4 1156.3h5.2v5.2h-5.2zM284.4 1158.1h5.2v5.2h-5.2zM287.3 1159.8h5.2v5.2h-5.2zM290.3 1161.6h5.2v5.2h-5.2zM293.2 1163.4h5.2v5.2h-5.2zM296.4 1169.6h5.2v5.2h-5.2zM299.5 1175.8h5.2v5.2h-5.2zM302.6 1181.9h5.2v5.2h-5.2zM305.8 1188.1h5.2v5.2h-5.2zM309.2 1200.5h5.2v5.2h-5.2zM312.2 1218.4h5.2v5.2h-5.2zM315.2 1225.4h5.2v5.2h-5.2zM317.2 1202.4h5.2v5.2h-5.2zM319.2 1227.4h5.2v5.2h-5.2zM322.2 1202.4h5.2v5.2h-5.2z" fill="#000" clip-path="url(#cic)"/>
<path d="M324.9 1210L327.9 1230L329.9 1205L332.9 1198L335.7 1195.3L338.5 1192.6L341.4 1189.9L344.5 1187.2L347.7 1184.4L350.9 1181.7L353.4 1178.8L355.9 1176L358.4 1173.2L360.9 1170.3L363.5 1166L366.2 1161.6L368.9 1157.3L371.4 1149.9L373.9 1142.6L377.4 1131.3L380.9 1120L383.9 1112.9L386.9 1105.7L389.9 1098.6L393.4 1088.9L396.9 1077.4" stroke="#008000" stroke-width="1" fill="none" clip-path="url(#cic)"/>
<path d="M322.2 1207.4h5.2v5.2h-5.2zM325.2 1227.4h5.2v5.2h-5.2zM327.2 1202.4h5.2v5.2h-5.2zM330.2 1195.4h5.2v5.2h-5.2zM333.1 1192.7h5.2v5.2h-5.2zM335.9 1190h5.2v5.2h-5.2zM338.8 1187.3h5.2v5.2h-5.2zM341.9 1184.6h5.2v5.2h-5.2zM345.1 1181.8h5.2v5.2h-5.2zM348.2 1179.1h5.2v5.2h-5.2zM350.8 1176.2h5.2v5.2h-5.2zM353.2 1173.4h5.2v5.2h-5.2zM355.8 1170.6h5.2v5.2h-5.2zM358.2 1167.7h5.2v5.2h-5.2zM360.9 1163.4h5.2v5.2h-5.2zM363.6 1159h5.2v5.2h-5.2zM366.2 1154.7h5.2v5.2h-5.2zM368.8 1147.3h5.2v5.2h-5.2zM371.2 1140h5.2v5.2h-5.2zM374.8 1128.7h5.2v5.2h-5.2zM378.2 1117.4h5.2v5.2h-5.2zM381.2 1110.3h5.2v5.2h-5.2zM384.2 1103.1h5.2v5.2h-5.2zM387.2 1096h5.2v5.2h-5.2zM390.8 1086.3h5.2v5.2h-5.2zM394.2 1074.8h5.2v5.2h-5.2z" fill="#008000" clip-path="url(#cic)"/>
<path d="M396.9 1077.4L393.9 1078.8L390.9 1080.2L387.9 1081.7L384.9 1083.1L382.1 1084.9L379.4 1086.8L376.6 1088.7L373.9 1090.5L371.4 1092.5L368.9 1094.5L366.4 1096.6L363.9 1098.6L361.2 1101.9L358.5 1105.1L355.9 1108.4L352.9 1114.9L349.9 1121.4L347.4 1127.2L344.9 1132.9L342.7 1140.2L340.6 1147.5L337.9 1160.6L333.9 1185L331.4 1192.5L328.9 1200" stroke="#008000" stroke-width="1" fill="none" clip-path="url(#cic)"/>
<path d="M394.2 1074.8h5.2v5.2h-5.2zM391.2 1076.2h5.2v5.2h-5.2zM388.2 1077.7h5.2v5.2h-5.2zM385.2 1079.1h5.2v5.2h-5.2zM382.2 1080.5h5.2v5.2h-5.2zM379.5 1082.3h5.2v5.2h-5.2zM376.8 1084.2h5.2v5.2h-5.2zM374 1086.1h5.2v5.2h-5.2zM371.2 1087.9h5.2v5.2h-5.2zM368.8 1089.9h5.2v5.2h-5.2zM366.2 1092h5.2v5.2h-5.2zM363.8 1094h5.2v5.2h-5.2zM361.2 1096h5.2v5.2h-5.2zM358.6 1099.3h5.2v5.2h-5.2zM355.9 1102.5h5.2v5.2h-5.2zM353.2 1105.8h5.2v5.2h-5.2zM350.2 1112.3h5.2v5.2h-5.2zM347.2 1118.8h5.2v5.2h-5.2zM344.8 1124.6h5.2v5.2h-5.2zM342.2 1130.3h5.2v5.2h-5.2zM340.1 1137.6h5.2v5.2h-5.2zM337.9 1144.9h5.2v5.2h-5.2zM335.2 1158h5.2v5.2h-5.2zM331.2 1182.4h5.2v5.2h-5.2zM328.8 1189.9h5.2v5.2h-5.2zM326.2 1197.4h5.2v5.2h-5.2z" fill="#008000" clip-path="url(#cic)"/>
<path d="M328.9 1200L326.2 1193.9L323.5 1187.9L320.9 1181.8L318.1 1180.2L315.3 1178.6L312.5 1177.1L309.7 1175.5L307 1173.9L304.2 1172.3L301.4 1170.8L298.6 1169.2L295.9 1167.6L292.9 1165.8L289.9 1163.9L287 1162.1L284 1160.2L281.1 1158.4L278.1 1156.5L275.2 1154.7L272.2 1152.8L269.2 1151L266.4 1149.2L263.6 1147.3L260.8 1145.5L258 1143.7L255.2 1141.8L252.4 1140" stroke="#008000" stroke-width="1" fill="none" clip-path="url(#cic)"/>
<path d="M326.2 1197.4h5.2v5.2h-5.2zM323.6 1191.3h5.2v5.2h-5.2zM320.9 1185.3h5.2v5.2h-5.2zM318.2 1179.2h5.2v5.2h-5.2zM315.5 1177.6h5.2v5.2h-5.2zM312.7 1176h5.2v5.2h-5.2zM309.9 1174.5h5.2v5.2h-5.2zM307.1 1172.9h5.2v5.2h-5.2zM304.4 1171.3h5.2v5.2h-5.2zM301.6 1169.7h5.2v5.2h-5.2zM298.8 1168.2h5.2v5.2h-5.2zM296 1166.6h5.2v5.2h-5.2zM293.2 1165h5.2v5.2h-5.2zM290.3 1163.2h5.2v5.2h-5.2zM287.3 1161.3h5.2v5.2h-5.2zM284.4 1159.5h5.2v5.2h-5.2zM281.4 1157.6h5.2v5.2h-5.2zM278.5 1155.8h5.2v5.2h-5.2zM275.5 1153.9h5.2v5.2h-5.2zM272.6 1152.1h5.2v5.2h-5.2zM269.6 1150.2h5.2v5.2h-5.2zM266.6 1148.4h5.2v5.2h-5.2zM263.8 1146.6h5.2v5.2h-5.2zM261 1144.7h5.2v5.2h-5.2zM258.2 1142.9h5.2v5.2h-5.2zM255.4 1141.1h5.2v5.2h-5.2zM252.6 1139.2h5.2v5.2h-5.2zM249.8 1137.4h5.2v5.2h-5.2z" fill="#008000" clip-path="url(#cic)"/>
<path d="M252.4 1141L255.2 1142.8L258 1144.5L260.8 1146.2L263.6 1148L266.4 1149.8L269.2 1151.5L272 1153.2L274.9 1155L277.5 1156.9L280.1 1158.8L282.7 1160.6L285.4 1162.5L288 1164.4L290.6 1166.2L293.2 1168.1L295.9 1170L298.6 1174.5L301.4 1179L304.1 1183.5L306.9 1188L309.9 1192L312.9 1196L316.9 1226L318.9 1200L320.9 1230L323.9 1205L324.9 1210" stroke="#008000" stroke-width="1" fill="none" clip-path="url(#cic)"/>
<path d="M249.8 1138.4h5.2v5.2h-5.2zM252.6 1140.2h5.2v5.2h-5.2zM255.4 1141.9h5.2v5.2h-5.2zM258.2 1143.7h5.2v5.2h-5.2zM261 1145.4h5.2v5.2h-5.2zM263.8 1147.2h5.2v5.2h-5.2zM266.6 1148.9h5.2v5.2h-5.2zM269.4 1150.7h5.2v5.2h-5.2zM272.2 1152.4h5.2v5.2h-5.2zM274.9 1154.3h5.2v5.2h-5.2zM277.5 1156.2h5.2v5.2h-5.2zM280.1 1158h5.2v5.2h-5.2zM282.8 1159.9h5.2v5.2h-5.2zM285.4 1161.8h5.2v5.2h-5.2zM288 1163.7h5.2v5.2h-5.2zM290.6 1165.5h5.2v5.2h-5.2zM293.2 1167.4h5.2v5.2h-5.2zM296 1171.9h5.2v5.2h-5.2zM298.8 1176.4h5.2v5.2h-5.2zM301.5 1180.9h5.2v5.2h-5.2zM304.2 1185.4h5.2v5.2h-5.2zM307.2 1189.4h5.2v5.2h-5.2zM310.2 1193.4h5.2v5.2h-5.2zM314.2 1223.4h5.2v5.2h-5.2zM316.2 1197.4h5.2v5.2h-5.2zM318.2 1227.4h5.2v5.2h-5.2zM321.2 1202.4h5.2v5.2h-5.2zM322.2 1207.4h5.2v5.2h-5.2z" fill="#008000" clip-path="url(#cic)"/>
<path d="M324.9 1208L327.9 1203L330.9 1200L334.4 1195.8L337.9 1191.5L340.4 1189L342.9 1186.6L345.4 1184.2L347.9 1181.7L350.5 1177.9L353.2 1174.1L355.9 1170.3L359.4 1163.8L362.9 1157.3L365.9 1150.8L368.9 1144.3L371.4 1137.8L373.9 1131.2L376.4 1124.7L378.9 1118.2L381.4 1111.7L383.9 1105.2L386.9 1093.7" stroke="#ff9900" stroke-width="1" fill="none" clip-path="url(#cic)"/>
<path d="M322.2 1205.4h5.2v5.2h-5.2zM325.2 1200.4h5.2v5.2h-5.2zM328.2 1197.4h5.2v5.2h-5.2zM331.8 1193.2h5.2v5.2h-5.2zM335.2 1188.9h5.2v5.2h-5.2zM337.8 1186.5h5.2v5.2h-5.2zM340.2 1184h5.2v5.2h-5.2zM342.8 1181.6h5.2v5.2h-5.2zM345.2 1179.1h5.2v5.2h-5.2zM347.9 1175.3h5.2v5.2h-5.2zM350.6 1171.5h5.2v5.2h-5.2zM353.2 1167.7h5.2v5.2h-5.2zM356.8 1161.2h5.2v5.2h-5.2zM360.2 1154.7h5.2v5.2h-5.2zM363.2 1148.2h5.2v5.2h-5.2zM366.2 1141.7h5.2v5.2h-5.2zM368.8 1135.2h5.2v5.2h-5.2zM371.2 1128.6h5.2v5.2h-5.2zM373.8 1122.1h5.2v5.2h-5.2zM376.2 1115.6h5.2v5.2h-5.2zM378.8 1109.1h5.2v5.2h-5.2zM381.2 1102.6h5.2v5.2h-5.2zM384.2 1091.1h5.2v5.2h-5.2z" fill="#ff9900" clip-path="url(#cic)"/>
<path d="M386.9 1093.7L384.1 1095.3L381.4 1097L378.6 1098.7L375.9 1100.3L373.4 1102.7L370.9 1105.2L368.4 1107.6L365.9 1110L363.2 1113.3L360.5 1116.5L357.9 1119.8L354.4 1124.7L350.9 1129.6L348.4 1135.3L345.9 1141L342.9 1152.4L339.9 1167.1L336.4 1180.1L334.1 1188L331.9 1196L327.9 1205" stroke="#ff9900" stroke-width="1" fill="none" clip-path="url(#cic)"/>
<path d="M384.2 1091.1h5.2v5.2h-5.2zM381.5 1092.8h5.2v5.2h-5.2zM378.8 1094.4h5.2v5.2h-5.2zM376 1096.1h5.2v5.2h-5.2zM373.2 1097.7h5.2v5.2h-5.2zM370.8 1100.1h5.2v5.2h-5.2zM368.2 1102.6h5.2v5.2h-5.2zM365.8 1105h5.2v5.2h-5.2zM363.2 1107.4h5.2v5.2h-5.2zM360.6 1110.7h5.2v5.2h-5.2zM357.9 1113.9h5.2v5.2h-5.2zM355.2 1117.2h5.2v5.2h-5.2zM351.8 1122.1h5.2v5.2h-5.2zM348.2 1127h5.2v5.2h-5.2zM345.8 1132.7h5.2v5.2h-5.2zM343.2 1138.4h5.2v5.2h-5.2zM340.2 1149.8h5.2v5.2h-5.2zM337.2 1164.5h5.2v5.2h-5.2zM333.8 1177.5h5.2v5.2h-5.2zM331.5 1185.5h5.2v5.2h-5.2zM329.2 1193.4h5.2v5.2h-5.2zM325.2 1202.4h5.2v5.2h-5.2z" fill="#ff9900" clip-path="url(#cic)"/>
<path d="M327.9 1205L325.4 1197L322.9 1188.9L320 1187.8L317.1 1186.8L314.2 1185.7L311.2 1184.7L308.4 1183.6L305.2 1180.9L302.1 1178.2L299 1175.6L295.9 1172.9L292.9 1170.5L290 1168.2L287 1165.8L284.1 1163.4L281.1 1161.1L278.2 1158.7L275.1 1156.9L272 1155.1L269 1153.4L265.9 1151.6L262.9 1149.8" stroke="#ff9900" stroke-width="1" fill="none" clip-path="url(#cic)"/>
<path d="M325.2 1202.4h5.2v5.2h-5.2zM322.8 1194.4h5.2v5.2h-5.2zM320.2 1186.3h5.2v5.2h-5.2zM317.4 1185.2h5.2v5.2h-5.2zM314.4 1184.2h5.2v5.2h-5.2zM311.6 1183.1h5.2v5.2h-5.2zM308.6 1182.1h5.2v5.2h-5.2zM305.8 1181h5.2v5.2h-5.2zM302.6 1178.3h5.2v5.2h-5.2zM299.5 1175.7h5.2v5.2h-5.2zM296.4 1173h5.2v5.2h-5.2zM293.2 1170.3h5.2v5.2h-5.2zM290.3 1167.9h5.2v5.2h-5.2zM287.4 1165.6h5.2v5.2h-5.2zM284.4 1163.2h5.2v5.2h-5.2zM281.4 1160.8h5.2v5.2h-5.2zM278.5 1158.5h5.2v5.2h-5.2zM275.6 1156.1h5.2v5.2h-5.2zM272.5 1154.3h5.2v5.2h-5.2zM269.4 1152.5h5.2v5.2h-5.2zM266.4 1150.8h5.2v5.2h-5.2zM263.3 1149h5.2v5.2h-5.2zM260.2 1147.2h5.2v5.2h-5.2z" fill="#ff9900" clip-path="url(#cic)"/>
<path d="M262.9 1150.5L265.9 1152.6L269 1154.7L272 1156.8L275.1 1158.9L278.2 1161L281.1 1163.7L284.1 1166.3L287 1169L290 1171.7L292.9 1174.3L295.9 1177L298.9 1182.1L301.9 1187.3L304.9 1192.4L306.9 1203.1L310.2 1217.3L312.6 1220L314.9 1222.7L318.9 1205L321.9 1200L324.9 1208" stroke="#ff9900" stroke-width="1" fill="none" clip-path="url(#cic)"/>
<path d="M260.2 1147.9h5.2v5.2h-5.2zM263.3 1150h5.2v5.2h-5.2zM266.4 1152.1h5.2v5.2h-5.2zM269.4 1154.2h5.2v5.2h-5.2zM272.5 1156.3h5.2v5.2h-5.2zM275.6 1158.4h5.2v5.2h-5.2zM278.5 1161.1h5.2v5.2h-5.2zM281.4 1163.7h5.2v5.2h-5.2zM284.4 1166.4h5.2v5.2h-5.2zM287.4 1169.1h5.2v5.2h-5.2zM290.3 1171.7h5.2v5.2h-5.2zM293.2 1174.4h5.2v5.2h-5.2zM296.2 1179.5h5.2v5.2h-5.2zM299.2 1184.7h5.2v5.2h-5.2zM302.2 1189.8h5.2v5.2h-5.2zM304.2 1200.5h5.2v5.2h-5.2zM307.6 1214.7h5.2v5.2h-5.2zM309.9 1217.4h5.2v5.2h-5.2zM312.2 1220.1h5.2v5.2h-5.2zM316.2 1202.4h5.2v5.2h-5.2zM319.2 1197.4h5.2v5.2h-5.2zM322.2 1205.4h5.2v5.2h-5.2z" fill="#ff9900" clip-path="url(#cic)"/>
<path d="M244.9 1229.5v-3M284.9 1229.5v-3M324.9 1229.5v-3M364.9 1229.5v-3M404.9 1229.5v-3M215.6 1229.5h3M215.6 1201.5h3M215.6 1173.4h3M215.6 1145.4h3M215.6 1117.4h3M215.6 1089.3h3M215.6 1061.3h3" stroke="#000" stroke-width="1.4" fill="none"/>
<rect x="215.6" y="1053.4" width="220.4" height="176.1" fill="none" stroke="#222" stroke-width="1.5"/>
<text x="210.1" y="1066.1" font-size="17.5" fill="#222" text-anchor="end" >1E-4</text>
<text x="210.1" y="1122.2" font-size="17.5" fill="#222" text-anchor="end" >1E-6</text>
<text x="210.1" y="1178.2" font-size="17.5" fill="#222" text-anchor="end" >1E-8</text>
<text x="210.1" y="1234.3" font-size="17.5" fill="#222" text-anchor="end" >1E-10</text>
<text x="244.9" y="1248" font-size="17.5" fill="#222" text-anchor="middle" >-8</text>
<text x="284.9" y="1248" font-size="17.5" fill="#222" text-anchor="middle" >-4</text>
<text x="324.9" y="1248" font-size="17.5" fill="#222" text-anchor="middle" >0</text>
<text x="364.9" y="1248" font-size="17.5" fill="#222" text-anchor="middle" >4</text>
<text x="404.9" y="1248" font-size="17.5" fill="#222" text-anchor="middle" >8</text>
<text x="324.9" y="1264" font-size="18" fill="#222" text-anchor="middle" >Voltage (V)</text>
<text x="0" y="0" font-size="17.8" fill="#222" text-anchor="middle" transform="translate(160.6 1141) rotate(-90)">|Current| (A)</text>
<path d="M224.6 1065.6h40" stroke="#111" stroke-width="1.3"/>
<path d="M242.8 1062.8h5.5v5.5h-5.5z" fill="#111"/>
<text x="272.1" y="1071.2" font-size="18" fill="#111" text-anchor="start" >8.0 V</text>
<path d="M224.6 1088.3h40" stroke="#1a8a1a" stroke-width="1.3"/>
<path d="M242.8 1085.5h5.5v5.5h-5.5z" fill="#1a8a1a"/>
<text x="272.1" y="1093.9" font-size="18" fill="#1a8a1a" text-anchor="start" >7.0 V</text>
<path d="M224.6 1110.8h40" stroke="#f0a030" stroke-width="1.3"/>
<path d="M242.8 1108h5.5v5.5h-5.5z" fill="#f0a030"/>
<text x="272.1" y="1116.4" font-size="18" fill="#f0a030" text-anchor="start" >6.0 V</text>
<path d="M377.8 1062.3L354.3 1080.9" stroke="#000" stroke-width="2.6" fill="none"/>
<path d="M348.8 1085.2L352.9 1077.5L357.2 1083z" fill="#000"/>
<path d="M360.2 1186.8L376 1163.6" stroke="#000" stroke-width="2.6" fill="none"/>
<path d="M379.9 1157.8L378.3 1166.4L372.5 1162.5z" fill="#000"/>
<path d="M311.1 1164.9L290.1 1150.2" stroke="#000" stroke-width="2.6" fill="none"/>
<path d="M284.4 1146.2L293 1147.9L288.9 1153.7z" fill="#000"/>
<path d="M277.3 1172.9L293.9 1190.9" stroke="#000" stroke-width="2.6" fill="none"/>
<path d="M298.7 1196L290.7 1192.5L295.8 1187.8z" fill="#000"/>
<text x="339.4" y="1067.7" font-size="19" fill="#333" text-anchor="start" >(2)</text>
<text x="367.4" y="1187" font-size="19" fill="#333" text-anchor="start" >(1)</text>
<text x="294" y="1149.3" font-size="19" fill="#333" text-anchor="start" >(3)</text>
<text x="262" y="1196.4" font-size="19" fill="#333" text-anchor="start" >(4)</text>
</g>
</svg>
</body></html>
